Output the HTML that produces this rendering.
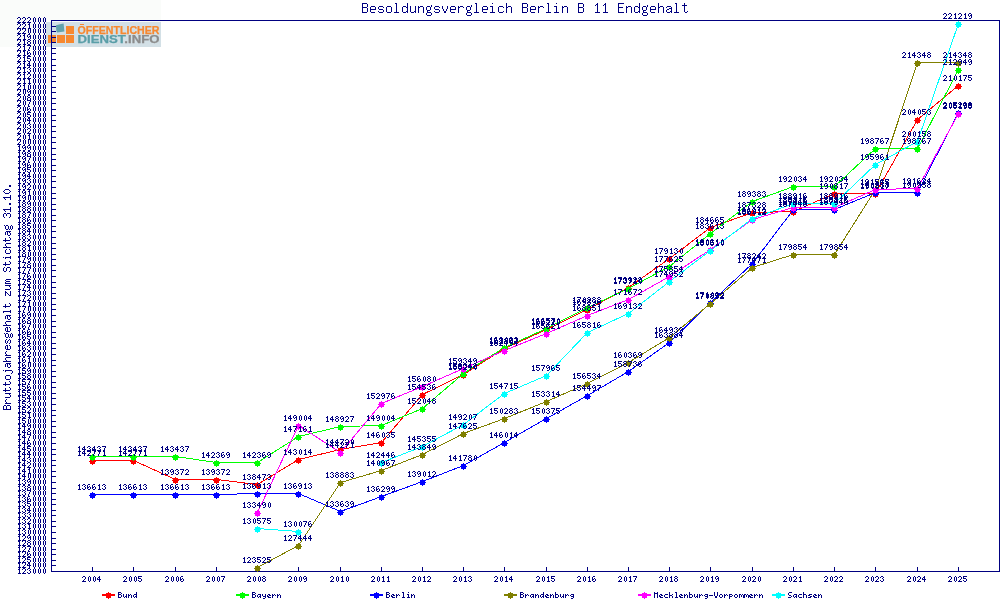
<!DOCTYPE html><html><head><meta charset="utf-8"><style>html,body{margin:0;padding:0;background:#fff;width:1000px;height:600px;overflow:hidden}svg{display:block;will-change:transform}</style></head><body>
<svg width="1000" height="600" viewBox="0 0 1000 600">
<defs>
<path id="d0" d="M2 0h1v1h-1zM1 1h1v1h-1zM3 1h1v1h-1zM1 2h1v1h-1zM3 2h1v1h-1zM1 3h1v1h-1zM3 3h1v1h-1zM1 4h1v1h-1zM3 4h1v1h-1zM2 5h1v1h-1z"/>
<path id="d1" d="M2 0h1v1h-1zM1 1h2v1h-2zM2 2h1v1h-1zM2 3h1v1h-1zM2 4h1v1h-1zM1 5h3v1h-3z"/>
<path id="d2" d="M1 0h2v1h-2zM0 1h1v1h-1zM3 1h1v1h-1zM3 2h1v1h-1zM2 3h1v1h-1zM1 4h1v1h-1zM0 5h4v1h-4z"/>
<path id="d3" d="M1 0h2v1h-2zM0 1h1v1h-1zM3 1h1v1h-1zM2 2h1v1h-1zM3 3h1v1h-1zM0 4h1v1h-1zM3 4h1v1h-1zM1 5h2v1h-2z"/>
<path id="d4" d="M2 0h1v1h-1zM1 1h2v1h-2zM0 2h1v1h-1zM2 2h1v1h-1zM0 3h4v1h-4zM2 4h1v1h-1zM2 5h1v1h-1z"/>
<path id="d5" d="M0 0h4v1h-4zM0 1h1v1h-1zM0 2h3v1h-3zM3 3h1v1h-1zM0 4h1v1h-1zM3 4h1v1h-1zM1 5h2v1h-2z"/>
<path id="d6" d="M1 0h2v1h-2zM0 1h1v1h-1zM0 2h1v1h-1zM2 2h1v1h-1zM0 3h2v1h-2zM3 3h1v1h-1zM0 4h1v1h-1zM3 4h1v1h-1zM1 5h2v1h-2z"/>
<path id="d7" d="M0 0h4v1h-4zM3 1h1v1h-1zM2 2h1v1h-1zM2 3h1v1h-1zM1 4h1v1h-1zM1 5h1v1h-1z"/>
<path id="d8" d="M1 0h2v1h-2zM0 1h1v1h-1zM3 1h1v1h-1zM1 2h2v1h-2zM0 3h1v1h-1zM3 3h1v1h-1zM0 4h1v1h-1zM3 4h1v1h-1zM1 5h2v1h-2z"/>
<path id="d9" d="M1 0h2v1h-2zM0 1h1v1h-1zM3 1h1v1h-1zM0 2h1v1h-1zM2 2h2v1h-2zM1 3h1v1h-1zM3 3h1v1h-1zM3 4h1v1h-1zM1 5h2v1h-2z"/>
<path id="L0" d="M0 0h3v1h-3zM0 1h1v1h-1zM3 1h1v1h-1zM0 2h3v1h-3zM0 3h1v1h-1zM3 3h1v1h-1zM0 4h1v1h-1zM3 4h1v1h-1zM0 5h3v1h-3z"/>
<path id="L1" d="M0 2h1v1h-1zM3 2h1v1h-1zM0 3h1v1h-1zM3 3h1v1h-1zM0 4h1v1h-1zM2 4h2v1h-2zM1 5h1v1h-1zM3 5h1v1h-1z"/>
<path id="L2" d="M0 2h1v1h-1zM2 2h1v1h-1zM0 3h2v1h-2zM3 3h1v1h-1zM0 4h1v1h-1zM3 4h1v1h-1zM0 5h1v1h-1zM3 5h1v1h-1z"/>
<path id="L3" d="M3 0h1v1h-1zM3 1h1v1h-1zM1 2h3v1h-3zM0 3h1v1h-1zM3 3h1v1h-1zM0 4h1v1h-1zM2 4h2v1h-2zM1 5h1v1h-1zM3 5h1v1h-1z"/>
<path id="L4" d="M1 2h3v1h-3zM0 3h1v1h-1zM3 3h1v1h-1zM0 4h1v1h-1zM2 4h2v1h-2zM1 5h1v1h-1zM3 5h1v1h-1z"/>
<path id="L5" d="M0 2h1v1h-1zM3 2h1v1h-1zM0 3h1v1h-1zM3 3h1v1h-1zM1 4h3v1h-3zM3 5h1v1h-1zM1 6h2v1h-2z"/>
<path id="L6" d="M1 2h2v1h-2zM0 3h1v1h-1zM2 3h2v1h-2zM0 4h2v1h-2zM1 5h3v1h-3z"/>
<path id="L7" d="M0 2h1v1h-1zM2 2h1v1h-1zM0 3h2v1h-2zM3 3h1v1h-1zM0 4h1v1h-1zM0 5h1v1h-1z"/>
<path id="L8" d="M1 0h2v1h-2zM2 1h1v1h-1zM2 2h1v1h-1zM2 3h1v1h-1zM2 4h1v1h-1zM1 5h3v1h-3z"/>
<path id="L9" d="M2 0h1v1h-1zM1 2h2v1h-2zM2 3h1v1h-1zM2 4h1v1h-1zM1 5h3v1h-3z"/>
<path id="L10" d="M0 0h1v1h-1zM0 1h1v1h-1zM0 2h3v1h-3zM0 3h1v1h-1zM3 3h1v1h-1zM0 4h1v1h-1zM3 4h1v1h-1zM0 5h3v1h-3z"/>
<path id="L11" d="M1 2h3v1h-3zM0 3h1v1h-1zM3 3h1v1h-1zM1 4h3v1h-3zM3 5h1v1h-1zM1 6h2v1h-2z"/>
<path id="L12" d="M0 0h1v1h-1zM3 0h1v1h-1zM0 1h4v1h-4zM0 2h1v1h-1zM3 2h1v1h-1zM0 3h1v1h-1zM3 3h1v1h-1zM0 4h1v1h-1zM3 4h1v1h-1zM0 5h1v1h-1zM3 5h1v1h-1z"/>
<path id="L13" d="M1 2h3v1h-3zM0 3h1v1h-1zM0 4h1v1h-1zM1 5h3v1h-3z"/>
<path id="L14" d="M0 0h1v1h-1zM0 1h1v1h-1zM0 2h1v1h-1zM3 2h1v1h-1zM0 3h3v1h-3zM0 4h1v1h-1zM3 4h1v1h-1zM0 5h1v1h-1zM3 5h1v1h-1z"/>
<path id="L15" d="M0 3h4v1h-4z"/>
<path id="L16" d="M0 0h1v1h-1zM3 0h1v1h-1zM0 1h1v1h-1zM3 1h1v1h-1zM0 2h1v1h-1zM3 2h1v1h-1zM0 3h1v1h-1zM3 3h1v1h-1zM1 4h2v1h-2zM1 5h2v1h-2z"/>
<path id="L17" d="M1 2h2v1h-2zM0 3h1v1h-1zM3 3h1v1h-1zM0 4h1v1h-1zM3 4h1v1h-1zM1 5h2v1h-2z"/>
<path id="L18" d="M0 2h3v1h-3zM0 3h1v1h-1zM3 3h1v1h-1zM0 4h3v1h-3zM0 5h1v1h-1zM0 6h1v1h-1z"/>
<path id="L19" d="M0 2h2v1h-2zM3 2h1v1h-1zM0 3h1v1h-1zM2 3h1v1h-1zM4 3h1v1h-1zM0 4h1v1h-1zM2 4h1v1h-1zM4 4h1v1h-1zM0 5h1v1h-1zM4 5h1v1h-1z"/>
<path id="L20" d="M1 0h3v1h-3zM0 1h1v1h-1zM0 2h1v1h-1zM1 3h2v1h-2zM3 4h1v1h-1zM0 5h3v1h-3z"/>
<path id="L21" d="M0 0h1v1h-1zM0 1h1v1h-1zM0 2h3v1h-3zM0 3h1v1h-1zM3 3h1v1h-1zM0 4h1v1h-1zM3 4h1v1h-1zM0 5h1v1h-1zM3 5h1v1h-1z"/>
<path id="L22" d="M1 2h3v1h-3zM0 3h2v1h-2zM2 4h2v1h-2zM0 5h3v1h-3z"/>
<path id="T0" d="M0 0h5v1h-5zM0 1h1v1h-1zM5 1h1v1h-1zM0 2h1v1h-1zM5 2h1v1h-1zM0 3h1v1h-1zM5 3h1v1h-1zM0 4h5v1h-5zM0 5h1v1h-1zM5 5h1v1h-1zM0 6h1v1h-1zM5 6h1v1h-1zM0 7h1v1h-1zM5 7h1v1h-1zM0 8h1v1h-1zM5 8h1v1h-1zM0 9h5v1h-5z"/>
<path id="T1" d="M1 3h4v1h-4zM0 4h1v1h-1zM5 4h1v1h-1zM0 5h1v1h-1zM5 5h1v1h-1zM0 6h6v1h-6zM0 7h1v1h-1zM0 8h1v1h-1zM1 9h4v1h-4z"/>
<path id="T2" d="M1 3h4v1h-4zM0 4h1v1h-1zM5 4h1v1h-1zM0 5h1v1h-1zM1 6h4v1h-4zM5 7h1v1h-1zM0 8h1v1h-1zM5 8h1v1h-1zM1 9h4v1h-4z"/>
<path id="T3" d="M1 3h4v1h-4zM0 4h1v1h-1zM5 4h1v1h-1zM0 5h1v1h-1zM5 5h1v1h-1zM0 6h1v1h-1zM5 6h1v1h-1zM0 7h1v1h-1zM5 7h1v1h-1zM0 8h1v1h-1zM5 8h1v1h-1zM1 9h4v1h-4z"/>
<path id="T4" d="M1 0h2v1h-2zM2 1h1v1h-1zM2 2h1v1h-1zM2 3h1v1h-1zM2 4h1v1h-1zM2 5h1v1h-1zM2 6h1v1h-1zM2 7h1v1h-1zM2 8h1v1h-1zM0 9h5v1h-5z"/>
<path id="T5" d="M5 0h1v1h-1zM5 1h1v1h-1zM5 2h1v1h-1zM1 3h3v1h-3zM5 3h1v1h-1zM0 4h1v1h-1zM4 4h2v1h-2zM0 5h1v1h-1zM5 5h1v1h-1zM0 6h1v1h-1zM5 6h1v1h-1zM0 7h1v1h-1zM5 7h1v1h-1zM0 8h1v1h-1zM4 8h2v1h-2zM1 9h3v1h-3zM5 9h1v1h-1z"/>
<path id="T6" d="M0 3h1v1h-1zM5 3h1v1h-1zM0 4h1v1h-1zM5 4h1v1h-1zM0 5h1v1h-1zM5 5h1v1h-1zM0 6h1v1h-1zM5 6h1v1h-1zM0 7h1v1h-1zM5 7h1v1h-1zM0 8h1v1h-1zM4 8h2v1h-2zM1 9h3v1h-3zM5 9h1v1h-1z"/>
<path id="T7" d="M0 3h1v1h-1zM2 3h3v1h-3zM0 4h2v1h-2zM5 4h1v1h-1zM0 5h1v1h-1zM5 5h1v1h-1zM0 6h1v1h-1zM5 6h1v1h-1zM0 7h1v1h-1zM5 7h1v1h-1zM0 8h1v1h-1zM5 8h1v1h-1zM0 9h1v1h-1zM5 9h1v1h-1z"/>
<path id="T8" d="M5 2h1v1h-1zM1 3h3v1h-3zM5 3h1v1h-1zM0 4h1v1h-1zM4 4h1v1h-1zM0 5h1v1h-1zM4 5h1v1h-1zM0 6h1v1h-1zM4 6h1v1h-1zM1 7h3v1h-3zM1 8h1v1h-1zM1 9h4v1h-4zM0 10h1v1h-1zM5 10h1v1h-1zM0 11h1v1h-1zM5 11h1v1h-1zM1 12h4v1h-4z"/>
<path id="T9" d="M0 3h1v1h-1zM5 3h1v1h-1zM0 4h1v1h-1zM5 4h1v1h-1zM0 5h1v1h-1zM5 5h1v1h-1zM1 6h1v1h-1zM4 6h1v1h-1zM1 7h1v1h-1zM4 7h1v1h-1zM2 8h2v1h-2zM2 9h2v1h-2z"/>
<path id="T10" d="M0 3h1v1h-1zM2 3h3v1h-3zM0 4h2v1h-2zM5 4h1v1h-1zM0 5h1v1h-1zM0 6h1v1h-1zM0 7h1v1h-1zM0 8h1v1h-1zM0 9h1v1h-1z"/>
<path id="T11" d="M2 0h1v1h-1zM0 3h3v1h-3zM2 4h1v1h-1zM2 5h1v1h-1zM2 6h1v1h-1zM2 7h1v1h-1zM2 8h1v1h-1zM0 9h5v1h-5z"/>
<path id="T12" d="M1 3h4v1h-4zM0 4h1v1h-1zM5 4h1v1h-1zM0 5h1v1h-1zM0 6h1v1h-1zM0 7h1v1h-1zM0 8h1v1h-1zM5 8h1v1h-1zM1 9h4v1h-4z"/>
<path id="T13" d="M0 0h1v1h-1zM0 1h1v1h-1zM0 2h1v1h-1zM0 3h1v1h-1zM2 3h3v1h-3zM0 4h2v1h-2zM5 4h1v1h-1zM0 5h1v1h-1zM5 5h1v1h-1zM0 6h1v1h-1zM5 6h1v1h-1zM0 7h1v1h-1zM5 7h1v1h-1zM0 8h1v1h-1zM5 8h1v1h-1zM0 9h1v1h-1zM5 9h1v1h-1z"/>
<path id="T14" d="M3 0h1v1h-1zM2 1h2v1h-2zM1 2h1v1h-1zM3 2h1v1h-1zM3 3h1v1h-1zM3 4h1v1h-1zM3 5h1v1h-1zM3 6h1v1h-1zM3 7h1v1h-1zM3 8h1v1h-1zM1 9h5v1h-5z"/>
<path id="T15" d="M0 0h6v1h-6zM0 1h1v1h-1zM0 2h1v1h-1zM0 3h1v1h-1zM0 4h5v1h-5zM0 5h1v1h-1zM0 6h1v1h-1zM0 7h1v1h-1zM0 8h1v1h-1zM0 9h6v1h-6z"/>
<path id="T16" d="M1 3h4v1h-4zM0 4h1v1h-1zM5 4h1v1h-1zM3 5h3v1h-3zM1 6h2v1h-2zM5 6h1v1h-1zM0 7h1v1h-1zM5 7h1v1h-1zM0 8h1v1h-1zM4 8h2v1h-2zM1 9h3v1h-3zM5 9h1v1h-1z"/>
<path id="T17" d="M2 0h1v1h-1zM2 1h1v1h-1zM0 2h5v1h-5zM2 3h1v1h-1zM2 4h1v1h-1zM2 5h1v1h-1zM2 6h1v1h-1zM2 7h1v1h-1zM2 8h1v1h-1zM5 8h1v1h-1zM3 9h2v1h-2z"/>
<path id="Y0" d="M0 0h4v1h-4zM0 1h1v1h-1zM4 1h1v1h-1zM0 2h1v1h-1zM4 2h1v1h-1zM0 3h4v1h-4zM0 4h1v1h-1zM4 4h1v1h-1zM0 5h1v1h-1zM4 5h1v1h-1zM0 6h1v1h-1zM4 6h1v1h-1zM0 7h4v1h-4z"/>
<path id="Y1" d="M0 2h1v1h-1zM2 2h2v1h-2zM0 3h2v1h-2zM4 3h1v1h-1zM0 4h1v1h-1zM0 5h1v1h-1zM0 6h1v1h-1zM0 7h1v1h-1z"/>
<path id="Y2" d="M0 2h1v1h-1zM4 2h1v1h-1zM0 3h1v1h-1zM4 3h1v1h-1zM0 4h1v1h-1zM4 4h1v1h-1zM0 5h1v1h-1zM4 5h1v1h-1zM0 6h1v1h-1zM3 6h2v1h-2zM1 7h2v1h-2zM4 7h1v1h-1z"/>
<path id="Y3" d="M1 0h1v1h-1zM1 1h1v1h-1zM0 2h4v1h-4zM1 3h1v1h-1zM1 4h1v1h-1zM1 5h1v1h-1zM1 6h1v1h-1zM4 6h1v1h-1zM2 7h2v1h-2z"/>
<path id="Y4" d="M1 2h3v1h-3zM0 3h1v1h-1zM4 3h1v1h-1zM0 4h1v1h-1zM4 4h1v1h-1zM0 5h1v1h-1zM4 5h1v1h-1zM0 6h1v1h-1zM4 6h1v1h-1zM1 7h3v1h-3z"/>
<path id="Y5" d="M3 0h1v1h-1zM2 2h2v1h-2zM3 3h1v1h-1zM3 4h1v1h-1zM3 5h1v1h-1zM3 6h1v1h-1zM3 7h1v1h-1zM0 8h1v1h-1zM3 8h1v1h-1zM1 9h2v1h-2z"/>
<path id="Y6" d="M1 2h3v1h-3zM4 3h1v1h-1zM1 4h4v1h-4zM0 5h1v1h-1zM4 5h1v1h-1zM0 6h1v1h-1zM3 6h2v1h-2zM1 7h2v1h-2zM4 7h1v1h-1z"/>
<path id="Y7" d="M0 0h1v1h-1zM0 1h1v1h-1zM0 2h1v1h-1zM2 2h2v1h-2zM0 3h2v1h-2zM4 3h1v1h-1zM0 4h1v1h-1zM4 4h1v1h-1zM0 5h1v1h-1zM4 5h1v1h-1zM0 6h1v1h-1zM4 6h1v1h-1zM0 7h1v1h-1zM4 7h1v1h-1z"/>
<path id="Y8" d="M1 2h3v1h-3zM0 3h1v1h-1zM4 3h1v1h-1zM0 4h5v1h-5zM0 5h1v1h-1zM0 6h1v1h-1zM4 6h1v1h-1zM1 7h3v1h-3z"/>
<path id="Y9" d="M1 2h3v1h-3zM0 3h1v1h-1zM4 3h1v1h-1zM1 4h2v1h-2zM3 5h1v1h-1zM0 6h1v1h-1zM4 6h1v1h-1zM1 7h3v1h-3z"/>
<path id="Y10" d="M4 1h1v1h-1zM1 2h3v1h-3zM0 3h1v1h-1zM4 3h1v1h-1zM0 4h1v1h-1zM4 4h1v1h-1zM1 5h3v1h-3zM0 6h1v1h-1zM1 7h3v1h-3zM0 8h1v1h-1zM4 8h1v1h-1zM1 9h3v1h-3z"/>
<path id="Y11" d="M1 0h2v1h-2zM2 1h1v1h-1zM2 2h1v1h-1zM2 3h1v1h-1zM2 4h1v1h-1zM2 5h1v1h-1zM2 6h1v1h-1zM1 7h3v1h-3z"/>
<path id="Y12" d="M0 2h5v1h-5zM3 3h1v1h-1zM2 4h1v1h-1zM1 5h1v1h-1zM0 6h1v1h-1zM0 7h5v1h-5z"/>
<path id="Y13" d="M0 2h2v1h-2zM3 2h1v1h-1zM0 3h1v1h-1zM2 3h1v1h-1zM4 3h1v1h-1zM0 4h1v1h-1zM2 4h1v1h-1zM4 4h1v1h-1zM0 5h1v1h-1zM2 5h1v1h-1zM4 5h1v1h-1zM0 6h1v1h-1zM2 6h1v1h-1zM4 6h1v1h-1zM0 7h1v1h-1zM4 7h1v1h-1z"/>
<path id="Y14" d="M1 0h3v1h-3zM0 1h1v1h-1zM4 1h1v1h-1zM0 2h1v1h-1zM1 3h3v1h-3zM4 4h1v1h-1zM4 5h1v1h-1zM0 6h1v1h-1zM4 6h1v1h-1zM1 7h3v1h-3z"/>
<path id="Y15" d="M2 0h1v1h-1zM1 2h2v1h-2zM2 3h1v1h-1zM2 4h1v1h-1zM2 5h1v1h-1zM2 6h1v1h-1zM1 7h3v1h-3z"/>
<path id="Y16" d="M1 2h3v1h-3zM0 3h1v1h-1zM4 3h1v1h-1zM0 4h1v1h-1zM0 5h1v1h-1zM0 6h1v1h-1zM4 6h1v1h-1zM1 7h3v1h-3z"/>
<path id="Y17" d="M1 0h3v1h-3zM0 1h1v1h-1zM4 1h1v1h-1zM4 2h1v1h-1zM2 3h2v1h-2zM4 4h1v1h-1zM4 5h1v1h-1zM0 6h1v1h-1zM4 6h1v1h-1zM1 7h3v1h-3z"/>
<path id="Y18" d="M2 0h1v1h-1zM1 1h2v1h-2zM0 2h1v1h-1zM2 2h1v1h-1zM2 3h1v1h-1zM2 4h1v1h-1zM2 5h1v1h-1zM2 6h1v1h-1zM0 7h5v1h-5z"/>
<path id="Y19" d="M1 6h2v1h-2zM1 7h2v1h-2z"/>
<path id="Y20" d="M2 0h1v1h-1zM1 1h1v1h-1zM3 1h1v1h-1zM0 2h1v1h-1zM4 2h1v1h-1zM0 3h1v1h-1zM4 3h1v1h-1zM0 4h1v1h-1zM4 4h1v1h-1zM0 5h1v1h-1zM4 5h1v1h-1zM1 6h1v1h-1zM3 6h1v1h-1zM2 7h1v1h-1z"/>
</defs>
<rect x="0" y="0" width="1000" height="600" fill="#ffffff"/>
<g shape-rendering="crispEdges">
<rect x="0" y="0" width="161" height="47" fill="#fafcfa"/>
<rect x="46" y="22" width="115" height="25" fill="#d3e0e6"/>
<rect x="66" y="26" width="8" height="8" fill="#f7882f"/>
<rect x="48" y="35" width="8" height="8" fill="#f7882f"/>
<rect x="57" y="35" width="8" height="8" fill="#f7882f"/>
<rect x="66" y="35" width="8" height="8" fill="#f7882f"/>
</g>
<path d="M56 25.2 L62 23.8 L63.6 23.6 L64.4 31.6 L57.2 32.6 L56.3 31 Z" fill="#62a3ac"/>
<text x="77.5" y="33.8" font-family="Liberation Sans" font-weight="bold" font-size="10.4" fill="#f7882f" stroke="#f7882f" stroke-width="0.25" textLength="82" lengthAdjust="spacingAndGlyphs">OFFENTLICHER</text>
<rect x="80" y="24" width="4" height="1" fill="#f7882f" shape-rendering="crispEdges"/>
<text x="77.5" y="43.2" font-family="Liberation Sans" font-weight="bold" font-size="10.4" stroke-width="0.25" textLength="82" lengthAdjust="spacingAndGlyphs"><tspan fill="#5a9ea8" stroke="#5a9ea8">DIENST</tspan><tspan fill="#8c8c8c" stroke="#8c8c8c">.INFO</tspan></text>
<g shape-rendering="crispEdges" stroke="#000080" stroke-width="1" fill="none">
<rect x="51.5" y="20.5" width="948" height="551"/>
<line x1="51" y1="571.5" x2="56" y2="571.5"/>
<line x1="51" y1="565.5" x2="56" y2="565.5"/>
<line x1="51" y1="560.5" x2="56" y2="560.5"/>
<line x1="51" y1="554.5" x2="56" y2="554.5"/>
<line x1="51" y1="549.5" x2="56" y2="549.5"/>
<line x1="51" y1="543.5" x2="56" y2="543.5"/>
<line x1="51" y1="538.5" x2="56" y2="538.5"/>
<line x1="51" y1="532.5" x2="56" y2="532.5"/>
<line x1="51" y1="526.5" x2="56" y2="526.5"/>
<line x1="51" y1="521.5" x2="56" y2="521.5"/>
<line x1="51" y1="515.5" x2="56" y2="515.5"/>
<line x1="51" y1="510.5" x2="56" y2="510.5"/>
<line x1="51" y1="504.5" x2="56" y2="504.5"/>
<line x1="51" y1="499.5" x2="56" y2="499.5"/>
<line x1="51" y1="493.5" x2="56" y2="493.5"/>
<line x1="51" y1="488.5" x2="56" y2="488.5"/>
<line x1="51" y1="482.5" x2="56" y2="482.5"/>
<line x1="51" y1="476.5" x2="56" y2="476.5"/>
<line x1="51" y1="471.5" x2="56" y2="471.5"/>
<line x1="51" y1="465.5" x2="56" y2="465.5"/>
<line x1="51" y1="460.5" x2="56" y2="460.5"/>
<line x1="51" y1="454.5" x2="56" y2="454.5"/>
<line x1="51" y1="449.5" x2="56" y2="449.5"/>
<line x1="51" y1="443.5" x2="56" y2="443.5"/>
<line x1="51" y1="437.5" x2="56" y2="437.5"/>
<line x1="51" y1="432.5" x2="56" y2="432.5"/>
<line x1="51" y1="426.5" x2="56" y2="426.5"/>
<line x1="51" y1="421.5" x2="56" y2="421.5"/>
<line x1="51" y1="415.5" x2="56" y2="415.5"/>
<line x1="51" y1="410.5" x2="56" y2="410.5"/>
<line x1="51" y1="404.5" x2="56" y2="404.5"/>
<line x1="51" y1="398.5" x2="56" y2="398.5"/>
<line x1="51" y1="393.5" x2="56" y2="393.5"/>
<line x1="51" y1="387.5" x2="56" y2="387.5"/>
<line x1="51" y1="382.5" x2="56" y2="382.5"/>
<line x1="51" y1="376.5" x2="56" y2="376.5"/>
<line x1="51" y1="371.5" x2="56" y2="371.5"/>
<line x1="51" y1="365.5" x2="56" y2="365.5"/>
<line x1="51" y1="360.5" x2="56" y2="360.5"/>
<line x1="51" y1="354.5" x2="56" y2="354.5"/>
<line x1="51" y1="348.5" x2="56" y2="348.5"/>
<line x1="51" y1="343.5" x2="56" y2="343.5"/>
<line x1="51" y1="337.5" x2="56" y2="337.5"/>
<line x1="51" y1="332.5" x2="56" y2="332.5"/>
<line x1="51" y1="326.5" x2="56" y2="326.5"/>
<line x1="51" y1="321.5" x2="56" y2="321.5"/>
<line x1="51" y1="315.5" x2="56" y2="315.5"/>
<line x1="51" y1="309.5" x2="56" y2="309.5"/>
<line x1="51" y1="304.5" x2="56" y2="304.5"/>
<line x1="51" y1="298.5" x2="56" y2="298.5"/>
<line x1="51" y1="293.5" x2="56" y2="293.5"/>
<line x1="51" y1="287.5" x2="56" y2="287.5"/>
<line x1="51" y1="282.5" x2="56" y2="282.5"/>
<line x1="51" y1="276.5" x2="56" y2="276.5"/>
<line x1="51" y1="270.5" x2="56" y2="270.5"/>
<line x1="51" y1="265.5" x2="56" y2="265.5"/>
<line x1="51" y1="259.5" x2="56" y2="259.5"/>
<line x1="51" y1="254.5" x2="56" y2="254.5"/>
<line x1="51" y1="248.5" x2="56" y2="248.5"/>
<line x1="51" y1="243.5" x2="56" y2="243.5"/>
<line x1="51" y1="237.5" x2="56" y2="237.5"/>
<line x1="51" y1="231.5" x2="56" y2="231.5"/>
<line x1="51" y1="226.5" x2="56" y2="226.5"/>
<line x1="51" y1="220.5" x2="56" y2="220.5"/>
<line x1="51" y1="215.5" x2="56" y2="215.5"/>
<line x1="51" y1="209.5" x2="56" y2="209.5"/>
<line x1="51" y1="204.5" x2="56" y2="204.5"/>
<line x1="51" y1="198.5" x2="56" y2="198.5"/>
<line x1="51" y1="193.5" x2="56" y2="193.5"/>
<line x1="51" y1="187.5" x2="56" y2="187.5"/>
<line x1="51" y1="181.5" x2="56" y2="181.5"/>
<line x1="51" y1="176.5" x2="56" y2="176.5"/>
<line x1="51" y1="170.5" x2="56" y2="170.5"/>
<line x1="51" y1="165.5" x2="56" y2="165.5"/>
<line x1="51" y1="159.5" x2="56" y2="159.5"/>
<line x1="51" y1="154.5" x2="56" y2="154.5"/>
<line x1="51" y1="148.5" x2="56" y2="148.5"/>
<line x1="51" y1="142.5" x2="56" y2="142.5"/>
<line x1="51" y1="137.5" x2="56" y2="137.5"/>
<line x1="51" y1="131.5" x2="56" y2="131.5"/>
<line x1="51" y1="126.5" x2="56" y2="126.5"/>
<line x1="51" y1="120.5" x2="56" y2="120.5"/>
<line x1="51" y1="115.5" x2="56" y2="115.5"/>
<line x1="51" y1="109.5" x2="56" y2="109.5"/>
<line x1="51" y1="103.5" x2="56" y2="103.5"/>
<line x1="51" y1="98.5" x2="56" y2="98.5"/>
<line x1="51" y1="92.5" x2="56" y2="92.5"/>
<line x1="51" y1="87.5" x2="56" y2="87.5"/>
<line x1="51" y1="81.5" x2="56" y2="81.5"/>
<line x1="51" y1="76.5" x2="56" y2="76.5"/>
<line x1="51" y1="70.5" x2="56" y2="70.5"/>
<line x1="51" y1="65.5" x2="56" y2="65.5"/>
<line x1="51" y1="59.5" x2="56" y2="59.5"/>
<line x1="51" y1="53.5" x2="56" y2="53.5"/>
<line x1="51" y1="48.5" x2="56" y2="48.5"/>
<line x1="51" y1="42.5" x2="56" y2="42.5"/>
<line x1="51" y1="37.5" x2="56" y2="37.5"/>
<line x1="51" y1="31.5" x2="56" y2="31.5"/>
<line x1="51" y1="26.5" x2="56" y2="26.5"/>
<line x1="51" y1="20.5" x2="56" y2="20.5"/>
<line x1="92.5" y1="567" x2="92.5" y2="571"/>
<line x1="133.5" y1="567" x2="133.5" y2="571"/>
<line x1="175.5" y1="567" x2="175.5" y2="571"/>
<line x1="216.5" y1="567" x2="216.5" y2="571"/>
<line x1="257.5" y1="567" x2="257.5" y2="571"/>
<line x1="298.5" y1="567" x2="298.5" y2="571"/>
<line x1="340.5" y1="567" x2="340.5" y2="571"/>
<line x1="381.5" y1="567" x2="381.5" y2="571"/>
<line x1="422.5" y1="567" x2="422.5" y2="571"/>
<line x1="463.5" y1="567" x2="463.5" y2="571"/>
<line x1="504.5" y1="567" x2="504.5" y2="571"/>
<line x1="546.5" y1="567" x2="546.5" y2="571"/>
<line x1="587.5" y1="567" x2="587.5" y2="571"/>
<line x1="628.5" y1="567" x2="628.5" y2="571"/>
<line x1="669.5" y1="567" x2="669.5" y2="571"/>
<line x1="710.5" y1="567" x2="710.5" y2="571"/>
<line x1="752.5" y1="567" x2="752.5" y2="571"/>
<line x1="793.5" y1="567" x2="793.5" y2="571"/>
<line x1="834.5" y1="567" x2="834.5" y2="571"/>
<line x1="875.5" y1="567" x2="875.5" y2="571"/>
<line x1="917.5" y1="567" x2="917.5" y2="571"/>
<line x1="958.5" y1="567" x2="958.5" y2="571"/>
</g>
<g fill="#000080" shape-rendering="crispEdges">
<use href="#d1" x="17" y="568"/><use href="#d2" x="22" y="568"/><use href="#d3" x="27" y="568"/><use href="#d0" x="32" y="568"/><use href="#d0" x="37" y="568"/><use href="#d0" x="42" y="568"/>
<use href="#d1" x="17" y="562"/><use href="#d2" x="22" y="562"/><use href="#d4" x="27" y="562"/><use href="#d0" x="32" y="562"/><use href="#d0" x="37" y="562"/><use href="#d0" x="42" y="562"/>
<use href="#d1" x="17" y="557"/><use href="#d2" x="22" y="557"/><use href="#d5" x="27" y="557"/><use href="#d0" x="32" y="557"/><use href="#d0" x="37" y="557"/><use href="#d0" x="42" y="557"/>
<use href="#d1" x="17" y="551"/><use href="#d2" x="22" y="551"/><use href="#d6" x="27" y="551"/><use href="#d0" x="32" y="551"/><use href="#d0" x="37" y="551"/><use href="#d0" x="42" y="551"/>
<use href="#d1" x="17" y="546"/><use href="#d2" x="22" y="546"/><use href="#d7" x="27" y="546"/><use href="#d0" x="32" y="546"/><use href="#d0" x="37" y="546"/><use href="#d0" x="42" y="546"/>
<use href="#d1" x="17" y="540"/><use href="#d2" x="22" y="540"/><use href="#d8" x="27" y="540"/><use href="#d0" x="32" y="540"/><use href="#d0" x="37" y="540"/><use href="#d0" x="42" y="540"/>
<use href="#d1" x="17" y="535"/><use href="#d2" x="22" y="535"/><use href="#d9" x="27" y="535"/><use href="#d0" x="32" y="535"/><use href="#d0" x="37" y="535"/><use href="#d0" x="42" y="535"/>
<use href="#d1" x="17" y="529"/><use href="#d3" x="22" y="529"/><use href="#d0" x="27" y="529"/><use href="#d0" x="32" y="529"/><use href="#d0" x="37" y="529"/><use href="#d0" x="42" y="529"/>
<use href="#d1" x="17" y="523"/><use href="#d3" x="22" y="523"/><use href="#d1" x="27" y="523"/><use href="#d0" x="32" y="523"/><use href="#d0" x="37" y="523"/><use href="#d0" x="42" y="523"/>
<use href="#d1" x="17" y="518"/><use href="#d3" x="22" y="518"/><use href="#d2" x="27" y="518"/><use href="#d0" x="32" y="518"/><use href="#d0" x="37" y="518"/><use href="#d0" x="42" y="518"/>
<use href="#d1" x="17" y="512"/><use href="#d3" x="22" y="512"/><use href="#d3" x="27" y="512"/><use href="#d0" x="32" y="512"/><use href="#d0" x="37" y="512"/><use href="#d0" x="42" y="512"/>
<use href="#d1" x="17" y="507"/><use href="#d3" x="22" y="507"/><use href="#d4" x="27" y="507"/><use href="#d0" x="32" y="507"/><use href="#d0" x="37" y="507"/><use href="#d0" x="42" y="507"/>
<use href="#d1" x="17" y="501"/><use href="#d3" x="22" y="501"/><use href="#d5" x="27" y="501"/><use href="#d0" x="32" y="501"/><use href="#d0" x="37" y="501"/><use href="#d0" x="42" y="501"/>
<use href="#d1" x="17" y="496"/><use href="#d3" x="22" y="496"/><use href="#d6" x="27" y="496"/><use href="#d0" x="32" y="496"/><use href="#d0" x="37" y="496"/><use href="#d0" x="42" y="496"/>
<use href="#d1" x="17" y="490"/><use href="#d3" x="22" y="490"/><use href="#d7" x="27" y="490"/><use href="#d0" x="32" y="490"/><use href="#d0" x="37" y="490"/><use href="#d0" x="42" y="490"/>
<use href="#d1" x="17" y="485"/><use href="#d3" x="22" y="485"/><use href="#d8" x="27" y="485"/><use href="#d0" x="32" y="485"/><use href="#d0" x="37" y="485"/><use href="#d0" x="42" y="485"/>
<use href="#d1" x="17" y="479"/><use href="#d3" x="22" y="479"/><use href="#d9" x="27" y="479"/><use href="#d0" x="32" y="479"/><use href="#d0" x="37" y="479"/><use href="#d0" x="42" y="479"/>
<use href="#d1" x="17" y="473"/><use href="#d4" x="22" y="473"/><use href="#d0" x="27" y="473"/><use href="#d0" x="32" y="473"/><use href="#d0" x="37" y="473"/><use href="#d0" x="42" y="473"/>
<use href="#d1" x="17" y="468"/><use href="#d4" x="22" y="468"/><use href="#d1" x="27" y="468"/><use href="#d0" x="32" y="468"/><use href="#d0" x="37" y="468"/><use href="#d0" x="42" y="468"/>
<use href="#d1" x="17" y="462"/><use href="#d4" x="22" y="462"/><use href="#d2" x="27" y="462"/><use href="#d0" x="32" y="462"/><use href="#d0" x="37" y="462"/><use href="#d0" x="42" y="462"/>
<use href="#d1" x="17" y="457"/><use href="#d4" x="22" y="457"/><use href="#d3" x="27" y="457"/><use href="#d0" x="32" y="457"/><use href="#d0" x="37" y="457"/><use href="#d0" x="42" y="457"/>
<use href="#d1" x="17" y="451"/><use href="#d4" x="22" y="451"/><use href="#d4" x="27" y="451"/><use href="#d0" x="32" y="451"/><use href="#d0" x="37" y="451"/><use href="#d0" x="42" y="451"/>
<use href="#d1" x="17" y="446"/><use href="#d4" x="22" y="446"/><use href="#d5" x="27" y="446"/><use href="#d0" x="32" y="446"/><use href="#d0" x="37" y="446"/><use href="#d0" x="42" y="446"/>
<use href="#d1" x="17" y="440"/><use href="#d4" x="22" y="440"/><use href="#d6" x="27" y="440"/><use href="#d0" x="32" y="440"/><use href="#d0" x="37" y="440"/><use href="#d0" x="42" y="440"/>
<use href="#d1" x="17" y="434"/><use href="#d4" x="22" y="434"/><use href="#d7" x="27" y="434"/><use href="#d0" x="32" y="434"/><use href="#d0" x="37" y="434"/><use href="#d0" x="42" y="434"/>
<use href="#d1" x="17" y="429"/><use href="#d4" x="22" y="429"/><use href="#d8" x="27" y="429"/><use href="#d0" x="32" y="429"/><use href="#d0" x="37" y="429"/><use href="#d0" x="42" y="429"/>
<use href="#d1" x="17" y="423"/><use href="#d4" x="22" y="423"/><use href="#d9" x="27" y="423"/><use href="#d0" x="32" y="423"/><use href="#d0" x="37" y="423"/><use href="#d0" x="42" y="423"/>
<use href="#d1" x="17" y="418"/><use href="#d5" x="22" y="418"/><use href="#d0" x="27" y="418"/><use href="#d0" x="32" y="418"/><use href="#d0" x="37" y="418"/><use href="#d0" x="42" y="418"/>
<use href="#d1" x="17" y="412"/><use href="#d5" x="22" y="412"/><use href="#d1" x="27" y="412"/><use href="#d0" x="32" y="412"/><use href="#d0" x="37" y="412"/><use href="#d0" x="42" y="412"/>
<use href="#d1" x="17" y="407"/><use href="#d5" x="22" y="407"/><use href="#d2" x="27" y="407"/><use href="#d0" x="32" y="407"/><use href="#d0" x="37" y="407"/><use href="#d0" x="42" y="407"/>
<use href="#d1" x="17" y="401"/><use href="#d5" x="22" y="401"/><use href="#d3" x="27" y="401"/><use href="#d0" x="32" y="401"/><use href="#d0" x="37" y="401"/><use href="#d0" x="42" y="401"/>
<use href="#d1" x="17" y="395"/><use href="#d5" x="22" y="395"/><use href="#d4" x="27" y="395"/><use href="#d0" x="32" y="395"/><use href="#d0" x="37" y="395"/><use href="#d0" x="42" y="395"/>
<use href="#d1" x="17" y="390"/><use href="#d5" x="22" y="390"/><use href="#d5" x="27" y="390"/><use href="#d0" x="32" y="390"/><use href="#d0" x="37" y="390"/><use href="#d0" x="42" y="390"/>
<use href="#d1" x="17" y="384"/><use href="#d5" x="22" y="384"/><use href="#d6" x="27" y="384"/><use href="#d0" x="32" y="384"/><use href="#d0" x="37" y="384"/><use href="#d0" x="42" y="384"/>
<use href="#d1" x="17" y="379"/><use href="#d5" x="22" y="379"/><use href="#d7" x="27" y="379"/><use href="#d0" x="32" y="379"/><use href="#d0" x="37" y="379"/><use href="#d0" x="42" y="379"/>
<use href="#d1" x="17" y="373"/><use href="#d5" x="22" y="373"/><use href="#d8" x="27" y="373"/><use href="#d0" x="32" y="373"/><use href="#d0" x="37" y="373"/><use href="#d0" x="42" y="373"/>
<use href="#d1" x="17" y="368"/><use href="#d5" x="22" y="368"/><use href="#d9" x="27" y="368"/><use href="#d0" x="32" y="368"/><use href="#d0" x="37" y="368"/><use href="#d0" x="42" y="368"/>
<use href="#d1" x="17" y="362"/><use href="#d6" x="22" y="362"/><use href="#d0" x="27" y="362"/><use href="#d0" x="32" y="362"/><use href="#d0" x="37" y="362"/><use href="#d0" x="42" y="362"/>
<use href="#d1" x="17" y="357"/><use href="#d6" x="22" y="357"/><use href="#d1" x="27" y="357"/><use href="#d0" x="32" y="357"/><use href="#d0" x="37" y="357"/><use href="#d0" x="42" y="357"/>
<use href="#d1" x="17" y="351"/><use href="#d6" x="22" y="351"/><use href="#d2" x="27" y="351"/><use href="#d0" x="32" y="351"/><use href="#d0" x="37" y="351"/><use href="#d0" x="42" y="351"/>
<use href="#d1" x="17" y="345"/><use href="#d6" x="22" y="345"/><use href="#d3" x="27" y="345"/><use href="#d0" x="32" y="345"/><use href="#d0" x="37" y="345"/><use href="#d0" x="42" y="345"/>
<use href="#d1" x="17" y="340"/><use href="#d6" x="22" y="340"/><use href="#d4" x="27" y="340"/><use href="#d0" x="32" y="340"/><use href="#d0" x="37" y="340"/><use href="#d0" x="42" y="340"/>
<use href="#d1" x="17" y="334"/><use href="#d6" x="22" y="334"/><use href="#d5" x="27" y="334"/><use href="#d0" x="32" y="334"/><use href="#d0" x="37" y="334"/><use href="#d0" x="42" y="334"/>
<use href="#d1" x="17" y="329"/><use href="#d6" x="22" y="329"/><use href="#d6" x="27" y="329"/><use href="#d0" x="32" y="329"/><use href="#d0" x="37" y="329"/><use href="#d0" x="42" y="329"/>
<use href="#d1" x="17" y="323"/><use href="#d6" x="22" y="323"/><use href="#d7" x="27" y="323"/><use href="#d0" x="32" y="323"/><use href="#d0" x="37" y="323"/><use href="#d0" x="42" y="323"/>
<use href="#d1" x="17" y="318"/><use href="#d6" x="22" y="318"/><use href="#d8" x="27" y="318"/><use href="#d0" x="32" y="318"/><use href="#d0" x="37" y="318"/><use href="#d0" x="42" y="318"/>
<use href="#d1" x="17" y="312"/><use href="#d6" x="22" y="312"/><use href="#d9" x="27" y="312"/><use href="#d0" x="32" y="312"/><use href="#d0" x="37" y="312"/><use href="#d0" x="42" y="312"/>
<use href="#d1" x="17" y="306"/><use href="#d7" x="22" y="306"/><use href="#d0" x="27" y="306"/><use href="#d0" x="32" y="306"/><use href="#d0" x="37" y="306"/><use href="#d0" x="42" y="306"/>
<use href="#d1" x="17" y="301"/><use href="#d7" x="22" y="301"/><use href="#d1" x="27" y="301"/><use href="#d0" x="32" y="301"/><use href="#d0" x="37" y="301"/><use href="#d0" x="42" y="301"/>
<use href="#d1" x="17" y="295"/><use href="#d7" x="22" y="295"/><use href="#d2" x="27" y="295"/><use href="#d0" x="32" y="295"/><use href="#d0" x="37" y="295"/><use href="#d0" x="42" y="295"/>
<use href="#d1" x="17" y="290"/><use href="#d7" x="22" y="290"/><use href="#d3" x="27" y="290"/><use href="#d0" x="32" y="290"/><use href="#d0" x="37" y="290"/><use href="#d0" x="42" y="290"/>
<use href="#d1" x="17" y="284"/><use href="#d7" x="22" y="284"/><use href="#d4" x="27" y="284"/><use href="#d0" x="32" y="284"/><use href="#d0" x="37" y="284"/><use href="#d0" x="42" y="284"/>
<use href="#d1" x="17" y="279"/><use href="#d7" x="22" y="279"/><use href="#d5" x="27" y="279"/><use href="#d0" x="32" y="279"/><use href="#d0" x="37" y="279"/><use href="#d0" x="42" y="279"/>
<use href="#d1" x="17" y="273"/><use href="#d7" x="22" y="273"/><use href="#d6" x="27" y="273"/><use href="#d0" x="32" y="273"/><use href="#d0" x="37" y="273"/><use href="#d0" x="42" y="273"/>
<use href="#d1" x="17" y="267"/><use href="#d7" x="22" y="267"/><use href="#d7" x="27" y="267"/><use href="#d0" x="32" y="267"/><use href="#d0" x="37" y="267"/><use href="#d0" x="42" y="267"/>
<use href="#d1" x="17" y="262"/><use href="#d7" x="22" y="262"/><use href="#d8" x="27" y="262"/><use href="#d0" x="32" y="262"/><use href="#d0" x="37" y="262"/><use href="#d0" x="42" y="262"/>
<use href="#d1" x="17" y="256"/><use href="#d7" x="22" y="256"/><use href="#d9" x="27" y="256"/><use href="#d0" x="32" y="256"/><use href="#d0" x="37" y="256"/><use href="#d0" x="42" y="256"/>
<use href="#d1" x="17" y="251"/><use href="#d8" x="22" y="251"/><use href="#d0" x="27" y="251"/><use href="#d0" x="32" y="251"/><use href="#d0" x="37" y="251"/><use href="#d0" x="42" y="251"/>
<use href="#d1" x="17" y="245"/><use href="#d8" x="22" y="245"/><use href="#d1" x="27" y="245"/><use href="#d0" x="32" y="245"/><use href="#d0" x="37" y="245"/><use href="#d0" x="42" y="245"/>
<use href="#d1" x="17" y="240"/><use href="#d8" x="22" y="240"/><use href="#d2" x="27" y="240"/><use href="#d0" x="32" y="240"/><use href="#d0" x="37" y="240"/><use href="#d0" x="42" y="240"/>
<use href="#d1" x="17" y="234"/><use href="#d8" x="22" y="234"/><use href="#d3" x="27" y="234"/><use href="#d0" x="32" y="234"/><use href="#d0" x="37" y="234"/><use href="#d0" x="42" y="234"/>
<use href="#d1" x="17" y="228"/><use href="#d8" x="22" y="228"/><use href="#d4" x="27" y="228"/><use href="#d0" x="32" y="228"/><use href="#d0" x="37" y="228"/><use href="#d0" x="42" y="228"/>
<use href="#d1" x="17" y="223"/><use href="#d8" x="22" y="223"/><use href="#d5" x="27" y="223"/><use href="#d0" x="32" y="223"/><use href="#d0" x="37" y="223"/><use href="#d0" x="42" y="223"/>
<use href="#d1" x="17" y="217"/><use href="#d8" x="22" y="217"/><use href="#d6" x="27" y="217"/><use href="#d0" x="32" y="217"/><use href="#d0" x="37" y="217"/><use href="#d0" x="42" y="217"/>
<use href="#d1" x="17" y="212"/><use href="#d8" x="22" y="212"/><use href="#d7" x="27" y="212"/><use href="#d0" x="32" y="212"/><use href="#d0" x="37" y="212"/><use href="#d0" x="42" y="212"/>
<use href="#d1" x="17" y="206"/><use href="#d8" x="22" y="206"/><use href="#d8" x="27" y="206"/><use href="#d0" x="32" y="206"/><use href="#d0" x="37" y="206"/><use href="#d0" x="42" y="206"/>
<use href="#d1" x="17" y="201"/><use href="#d8" x="22" y="201"/><use href="#d9" x="27" y="201"/><use href="#d0" x="32" y="201"/><use href="#d0" x="37" y="201"/><use href="#d0" x="42" y="201"/>
<use href="#d1" x="17" y="195"/><use href="#d9" x="22" y="195"/><use href="#d0" x="27" y="195"/><use href="#d0" x="32" y="195"/><use href="#d0" x="37" y="195"/><use href="#d0" x="42" y="195"/>
<use href="#d1" x="17" y="190"/><use href="#d9" x="22" y="190"/><use href="#d1" x="27" y="190"/><use href="#d0" x="32" y="190"/><use href="#d0" x="37" y="190"/><use href="#d0" x="42" y="190"/>
<use href="#d1" x="17" y="184"/><use href="#d9" x="22" y="184"/><use href="#d2" x="27" y="184"/><use href="#d0" x="32" y="184"/><use href="#d0" x="37" y="184"/><use href="#d0" x="42" y="184"/>
<use href="#d1" x="17" y="178"/><use href="#d9" x="22" y="178"/><use href="#d3" x="27" y="178"/><use href="#d0" x="32" y="178"/><use href="#d0" x="37" y="178"/><use href="#d0" x="42" y="178"/>
<use href="#d1" x="17" y="173"/><use href="#d9" x="22" y="173"/><use href="#d4" x="27" y="173"/><use href="#d0" x="32" y="173"/><use href="#d0" x="37" y="173"/><use href="#d0" x="42" y="173"/>
<use href="#d1" x="17" y="167"/><use href="#d9" x="22" y="167"/><use href="#d5" x="27" y="167"/><use href="#d0" x="32" y="167"/><use href="#d0" x="37" y="167"/><use href="#d0" x="42" y="167"/>
<use href="#d1" x="17" y="162"/><use href="#d9" x="22" y="162"/><use href="#d6" x="27" y="162"/><use href="#d0" x="32" y="162"/><use href="#d0" x="37" y="162"/><use href="#d0" x="42" y="162"/>
<use href="#d1" x="17" y="156"/><use href="#d9" x="22" y="156"/><use href="#d7" x="27" y="156"/><use href="#d0" x="32" y="156"/><use href="#d0" x="37" y="156"/><use href="#d0" x="42" y="156"/>
<use href="#d1" x="17" y="151"/><use href="#d9" x="22" y="151"/><use href="#d8" x="27" y="151"/><use href="#d0" x="32" y="151"/><use href="#d0" x="37" y="151"/><use href="#d0" x="42" y="151"/>
<use href="#d1" x="17" y="145"/><use href="#d9" x="22" y="145"/><use href="#d9" x="27" y="145"/><use href="#d0" x="32" y="145"/><use href="#d0" x="37" y="145"/><use href="#d0" x="42" y="145"/>
<use href="#d2" x="17" y="139"/><use href="#d0" x="22" y="139"/><use href="#d0" x="27" y="139"/><use href="#d0" x="32" y="139"/><use href="#d0" x="37" y="139"/><use href="#d0" x="42" y="139"/>
<use href="#d2" x="17" y="134"/><use href="#d0" x="22" y="134"/><use href="#d1" x="27" y="134"/><use href="#d0" x="32" y="134"/><use href="#d0" x="37" y="134"/><use href="#d0" x="42" y="134"/>
<use href="#d2" x="17" y="128"/><use href="#d0" x="22" y="128"/><use href="#d2" x="27" y="128"/><use href="#d0" x="32" y="128"/><use href="#d0" x="37" y="128"/><use href="#d0" x="42" y="128"/>
<use href="#d2" x="17" y="123"/><use href="#d0" x="22" y="123"/><use href="#d3" x="27" y="123"/><use href="#d0" x="32" y="123"/><use href="#d0" x="37" y="123"/><use href="#d0" x="42" y="123"/>
<use href="#d2" x="17" y="117"/><use href="#d0" x="22" y="117"/><use href="#d4" x="27" y="117"/><use href="#d0" x="32" y="117"/><use href="#d0" x="37" y="117"/><use href="#d0" x="42" y="117"/>
<use href="#d2" x="17" y="112"/><use href="#d0" x="22" y="112"/><use href="#d5" x="27" y="112"/><use href="#d0" x="32" y="112"/><use href="#d0" x="37" y="112"/><use href="#d0" x="42" y="112"/>
<use href="#d2" x="17" y="106"/><use href="#d0" x="22" y="106"/><use href="#d6" x="27" y="106"/><use href="#d0" x="32" y="106"/><use href="#d0" x="37" y="106"/><use href="#d0" x="42" y="106"/>
<use href="#d2" x="17" y="100"/><use href="#d0" x="22" y="100"/><use href="#d7" x="27" y="100"/><use href="#d0" x="32" y="100"/><use href="#d0" x="37" y="100"/><use href="#d0" x="42" y="100"/>
<use href="#d2" x="17" y="95"/><use href="#d0" x="22" y="95"/><use href="#d8" x="27" y="95"/><use href="#d0" x="32" y="95"/><use href="#d0" x="37" y="95"/><use href="#d0" x="42" y="95"/>
<use href="#d2" x="17" y="89"/><use href="#d0" x="22" y="89"/><use href="#d9" x="27" y="89"/><use href="#d0" x="32" y="89"/><use href="#d0" x="37" y="89"/><use href="#d0" x="42" y="89"/>
<use href="#d2" x="17" y="84"/><use href="#d1" x="22" y="84"/><use href="#d0" x="27" y="84"/><use href="#d0" x="32" y="84"/><use href="#d0" x="37" y="84"/><use href="#d0" x="42" y="84"/>
<use href="#d2" x="17" y="78"/><use href="#d1" x="22" y="78"/><use href="#d1" x="27" y="78"/><use href="#d0" x="32" y="78"/><use href="#d0" x="37" y="78"/><use href="#d0" x="42" y="78"/>
<use href="#d2" x="17" y="73"/><use href="#d1" x="22" y="73"/><use href="#d2" x="27" y="73"/><use href="#d0" x="32" y="73"/><use href="#d0" x="37" y="73"/><use href="#d0" x="42" y="73"/>
<use href="#d2" x="17" y="67"/><use href="#d1" x="22" y="67"/><use href="#d3" x="27" y="67"/><use href="#d0" x="32" y="67"/><use href="#d0" x="37" y="67"/><use href="#d0" x="42" y="67"/>
<use href="#d2" x="17" y="62"/><use href="#d1" x="22" y="62"/><use href="#d4" x="27" y="62"/><use href="#d0" x="32" y="62"/><use href="#d0" x="37" y="62"/><use href="#d0" x="42" y="62"/>
<use href="#d2" x="17" y="56"/><use href="#d1" x="22" y="56"/><use href="#d5" x="27" y="56"/><use href="#d0" x="32" y="56"/><use href="#d0" x="37" y="56"/><use href="#d0" x="42" y="56"/>
<use href="#d2" x="17" y="50"/><use href="#d1" x="22" y="50"/><use href="#d6" x="27" y="50"/><use href="#d0" x="32" y="50"/><use href="#d0" x="37" y="50"/><use href="#d0" x="42" y="50"/>
<use href="#d2" x="17" y="45"/><use href="#d1" x="22" y="45"/><use href="#d7" x="27" y="45"/><use href="#d0" x="32" y="45"/><use href="#d0" x="37" y="45"/><use href="#d0" x="42" y="45"/>
<use href="#d2" x="17" y="39"/><use href="#d1" x="22" y="39"/><use href="#d8" x="27" y="39"/><use href="#d0" x="32" y="39"/><use href="#d0" x="37" y="39"/><use href="#d0" x="42" y="39"/>
<use href="#d2" x="17" y="34"/><use href="#d1" x="22" y="34"/><use href="#d9" x="27" y="34"/><use href="#d0" x="32" y="34"/><use href="#d0" x="37" y="34"/><use href="#d0" x="42" y="34"/>
<use href="#d2" x="17" y="28"/><use href="#d2" x="22" y="28"/><use href="#d0" x="27" y="28"/><use href="#d0" x="32" y="28"/><use href="#d0" x="37" y="28"/><use href="#d0" x="42" y="28"/>
<use href="#d2" x="17" y="23"/><use href="#d2" x="22" y="23"/><use href="#d1" x="27" y="23"/><use href="#d0" x="32" y="23"/><use href="#d0" x="37" y="23"/><use href="#d0" x="42" y="23"/>
<use href="#d2" x="17" y="17"/><use href="#d2" x="22" y="17"/><use href="#d2" x="27" y="17"/><use href="#d0" x="32" y="17"/><use href="#d0" x="37" y="17"/><use href="#d0" x="42" y="17"/>
<use href="#d2" x="82" y="576"/><use href="#d0" x="87" y="576"/><use href="#d0" x="92" y="576"/><use href="#d4" x="97" y="576"/>
<use href="#d2" x="123" y="576"/><use href="#d0" x="128" y="576"/><use href="#d0" x="133" y="576"/><use href="#d5" x="138" y="576"/>
<use href="#d2" x="165" y="576"/><use href="#d0" x="170" y="576"/><use href="#d0" x="175" y="576"/><use href="#d6" x="180" y="576"/>
<use href="#d2" x="206" y="576"/><use href="#d0" x="211" y="576"/><use href="#d0" x="216" y="576"/><use href="#d7" x="221" y="576"/>
<use href="#d2" x="247" y="576"/><use href="#d0" x="252" y="576"/><use href="#d0" x="257" y="576"/><use href="#d8" x="262" y="576"/>
<use href="#d2" x="288" y="576"/><use href="#d0" x="293" y="576"/><use href="#d0" x="298" y="576"/><use href="#d9" x="303" y="576"/>
<use href="#d2" x="330" y="576"/><use href="#d0" x="335" y="576"/><use href="#d1" x="340" y="576"/><use href="#d0" x="345" y="576"/>
<use href="#d2" x="371" y="576"/><use href="#d0" x="376" y="576"/><use href="#d1" x="381" y="576"/><use href="#d1" x="386" y="576"/>
<use href="#d2" x="412" y="576"/><use href="#d0" x="417" y="576"/><use href="#d1" x="422" y="576"/><use href="#d2" x="427" y="576"/>
<use href="#d2" x="453" y="576"/><use href="#d0" x="458" y="576"/><use href="#d1" x="463" y="576"/><use href="#d3" x="468" y="576"/>
<use href="#d2" x="494" y="576"/><use href="#d0" x="499" y="576"/><use href="#d1" x="504" y="576"/><use href="#d4" x="509" y="576"/>
<use href="#d2" x="536" y="576"/><use href="#d0" x="541" y="576"/><use href="#d1" x="546" y="576"/><use href="#d5" x="551" y="576"/>
<use href="#d2" x="577" y="576"/><use href="#d0" x="582" y="576"/><use href="#d1" x="587" y="576"/><use href="#d6" x="592" y="576"/>
<use href="#d2" x="618" y="576"/><use href="#d0" x="623" y="576"/><use href="#d1" x="628" y="576"/><use href="#d7" x="633" y="576"/>
<use href="#d2" x="659" y="576"/><use href="#d0" x="664" y="576"/><use href="#d1" x="669" y="576"/><use href="#d8" x="674" y="576"/>
<use href="#d2" x="700" y="576"/><use href="#d0" x="705" y="576"/><use href="#d1" x="710" y="576"/><use href="#d9" x="715" y="576"/>
<use href="#d2" x="742" y="576"/><use href="#d0" x="747" y="576"/><use href="#d2" x="752" y="576"/><use href="#d0" x="757" y="576"/>
<use href="#d2" x="783" y="576"/><use href="#d0" x="788" y="576"/><use href="#d2" x="793" y="576"/><use href="#d1" x="798" y="576"/>
<use href="#d2" x="824" y="576"/><use href="#d0" x="829" y="576"/><use href="#d2" x="834" y="576"/><use href="#d2" x="839" y="576"/>
<use href="#d2" x="865" y="576"/><use href="#d0" x="870" y="576"/><use href="#d2" x="875" y="576"/><use href="#d3" x="880" y="576"/>
<use href="#d2" x="907" y="576"/><use href="#d0" x="912" y="576"/><use href="#d2" x="917" y="576"/><use href="#d4" x="922" y="576"/>
<use href="#d2" x="948" y="576"/><use href="#d0" x="953" y="576"/><use href="#d2" x="958" y="576"/><use href="#d5" x="963" y="576"/>
</g>
<g fill="#000080" shape-rendering="crispEdges"><use href="#T0" x="362" y="3"/><use href="#T1" x="370" y="3"/><use href="#T2" x="378" y="3"/><use href="#T3" x="386" y="3"/><use href="#T4" x="394" y="3"/><use href="#T5" x="402" y="3"/><use href="#T6" x="410" y="3"/><use href="#T7" x="418" y="3"/><use href="#T8" x="426" y="3"/><use href="#T2" x="434" y="3"/><use href="#T9" x="442" y="3"/><use href="#T1" x="450" y="3"/><use href="#T10" x="458" y="3"/><use href="#T8" x="466" y="3"/><use href="#T4" x="474" y="3"/><use href="#T1" x="482" y="3"/><use href="#T11" x="490" y="3"/><use href="#T12" x="498" y="3"/><use href="#T13" x="506" y="3"/><use href="#T0" x="522" y="3"/><use href="#T1" x="530" y="3"/><use href="#T10" x="538" y="3"/><use href="#T4" x="546" y="3"/><use href="#T11" x="554" y="3"/><use href="#T7" x="562" y="3"/><use href="#T0" x="578" y="3"/><use href="#T14" x="594" y="3"/><use href="#T14" x="602" y="3"/><use href="#T15" x="618" y="3"/><use href="#T7" x="626" y="3"/><use href="#T5" x="634" y="3"/><use href="#T8" x="642" y="3"/><use href="#T1" x="650" y="3"/><use href="#T13" x="658" y="3"/><use href="#T16" x="666" y="3"/><use href="#T4" x="674" y="3"/><use href="#T17" x="682" y="3"/></g>
<g fill="#000080" shape-rendering="crispEdges" transform="matrix(0,-1,1,0,3,410)"><use href="#Y0" x="0" y="0"/><use href="#Y1" x="6" y="0"/><use href="#Y2" x="12" y="0"/><use href="#Y3" x="18" y="0"/><use href="#Y3" x="24" y="0"/><use href="#Y4" x="30" y="0"/><use href="#Y5" x="36" y="0"/><use href="#Y6" x="42" y="0"/><use href="#Y7" x="48" y="0"/><use href="#Y1" x="54" y="0"/><use href="#Y8" x="60" y="0"/><use href="#Y9" x="66" y="0"/><use href="#Y10" x="72" y="0"/><use href="#Y8" x="78" y="0"/><use href="#Y7" x="84" y="0"/><use href="#Y6" x="90" y="0"/><use href="#Y11" x="96" y="0"/><use href="#Y3" x="102" y="0"/><use href="#Y12" x="114" y="0"/><use href="#Y2" x="120" y="0"/><use href="#Y13" x="126" y="0"/><use href="#Y14" x="138" y="0"/><use href="#Y3" x="144" y="0"/><use href="#Y15" x="150" y="0"/><use href="#Y16" x="156" y="0"/><use href="#Y7" x="162" y="0"/><use href="#Y3" x="168" y="0"/><use href="#Y6" x="174" y="0"/><use href="#Y10" x="180" y="0"/><use href="#Y17" x="192" y="0"/><use href="#Y18" x="198" y="0"/><use href="#Y19" x="204" y="0"/><use href="#Y18" x="210" y="0"/><use href="#Y20" x="216" y="0"/><use href="#Y19" x="222" y="0"/></g>
<g fill="none" stroke-width="1" shape-rendering="crispEdges">
<polyline stroke="#ff0000" points="92.5,460.5 133.5,460.5 175.5,479.5 216.5,479.5 257.5,484.5 298.5,459.5 340.5,449.5 381.5,442.5 422.5,394.5 463.5,374.5 504.5,348.5 546.5,329.5 587.5,309.5 628.5,287.5 669.5,258.5 710.5,227.5 752.5,212.5 793.5,211.5 834.5,193.5 875.5,193.5 917.5,119.5 958.5,85.5"/>
<polyline stroke="#00ff00" points="92.5,456.5 133.5,456.5 175.5,456.5 216.5,462.5 257.5,462.5 298.5,436.5 340.5,426.5 381.5,425.5 422.5,408.5 463.5,373.5 504.5,347.5 546.5,328.5 587.5,307.5 628.5,288.5 669.5,266.5 710.5,233.5 752.5,201.5 793.5,186.5 834.5,186.5 875.5,148.5 917.5,148.5 958.5,69.5"/>
<polyline stroke="#0000ff" points="92.5,494.5 133.5,494.5 175.5,494.5 216.5,494.5 257.5,493.5 298.5,493.5 340.5,511.5 381.5,496.5 422.5,481.5 463.5,465.5 504.5,442.5 546.5,418.5 587.5,395.5 628.5,371.5 669.5,342.5 710.5,302.5 752.5,263.5 793.5,209.5 834.5,209.5 875.5,192.5 917.5,192.5 958.5,112.5"/>
<polyline stroke="#808000" points="257.5,567.5 298.5,545.5 340.5,482.5 381.5,470.5 422.5,454.5 463.5,433.5 504.5,418.5 546.5,401.5 587.5,383.5 628.5,362.5 669.5,337.5 710.5,303.5 752.5,267.5 793.5,254.5 834.5,254.5 875.5,189.5 917.5,62.5 958.5,62.5"/>
<polyline stroke="#ff00ff" points="257.5,512.5 298.5,425.5 340.5,452.5 381.5,403.5 422.5,386.5 463.5,368.5 504.5,350.5 546.5,333.5 587.5,315.5 628.5,299.5 669.5,276.5 710.5,249.5 752.5,219.5 793.5,207.5 834.5,207.5 875.5,189.5 917.5,188.5 958.5,113.5"/>
<polyline stroke="#00ffff" points="257.5,528.5 298.5,531.5"/>
<polyline stroke="#00ffff" points="381.5,462.5 422.5,446.5 463.5,424.5 504.5,393.5 546.5,375.5 587.5,332.5 628.5,313.5 669.5,281.5 710.5,250.5 752.5,218.5 793.5,203.5 834.5,203.5 875.5,164.5 917.5,141.5 958.5,23.5"/>
</g>
<g shape-rendering="crispEdges">
<path d="M90 459h5v5h-5zM89 461h7v1h-7zM92 458h1v7h-1z" fill="#ff0000"/>
<path d="M131 459h5v5h-5zM130 461h7v1h-7zM133 458h1v7h-1z" fill="#ff0000"/>
<path d="M173 478h5v5h-5zM172 480h7v1h-7zM175 477h1v7h-1z" fill="#ff0000"/>
<path d="M214 478h5v5h-5zM213 480h7v1h-7zM216 477h1v7h-1z" fill="#ff0000"/>
<path d="M255 483h5v5h-5zM254 485h7v1h-7zM257 482h1v7h-1z" fill="#ff0000"/>
<path d="M296 458h5v5h-5zM295 460h7v1h-7zM298 457h1v7h-1z" fill="#ff0000"/>
<path d="M338 448h5v5h-5zM337 450h7v1h-7zM340 447h1v7h-1z" fill="#ff0000"/>
<path d="M379 441h5v5h-5zM378 443h7v1h-7zM381 440h1v7h-1z" fill="#ff0000"/>
<path d="M420 393h5v5h-5zM419 395h7v1h-7zM422 392h1v7h-1z" fill="#ff0000"/>
<path d="M461 373h5v5h-5zM460 375h7v1h-7zM463 372h1v7h-1z" fill="#ff0000"/>
<path d="M502 347h5v5h-5zM501 349h7v1h-7zM504 346h1v7h-1z" fill="#ff0000"/>
<path d="M544 328h5v5h-5zM543 330h7v1h-7zM546 327h1v7h-1z" fill="#ff0000"/>
<path d="M585 308h5v5h-5zM584 310h7v1h-7zM587 307h1v7h-1z" fill="#ff0000"/>
<path d="M626 286h5v5h-5zM625 288h7v1h-7zM628 285h1v7h-1z" fill="#ff0000"/>
<path d="M667 257h5v5h-5zM666 259h7v1h-7zM669 256h1v7h-1z" fill="#ff0000"/>
<path d="M708 226h5v5h-5zM707 228h7v1h-7zM710 225h1v7h-1z" fill="#ff0000"/>
<path d="M750 211h5v5h-5zM749 213h7v1h-7zM752 210h1v7h-1z" fill="#ff0000"/>
<path d="M791 210h5v5h-5zM790 212h7v1h-7zM793 209h1v7h-1z" fill="#ff0000"/>
<path d="M832 192h5v5h-5zM831 194h7v1h-7zM834 191h1v7h-1z" fill="#ff0000"/>
<path d="M873 192h5v5h-5zM872 194h7v1h-7zM875 191h1v7h-1z" fill="#ff0000"/>
<path d="M915 118h5v5h-5zM914 120h7v1h-7zM917 117h1v7h-1z" fill="#ff0000"/>
<path d="M956 84h5v5h-5zM955 86h7v1h-7zM958 83h1v7h-1z" fill="#ff0000"/>
<path d="M90 455h5v5h-5zM89 457h7v1h-7zM92 454h1v7h-1z" fill="#00ff00"/>
<path d="M131 455h5v5h-5zM130 457h7v1h-7zM133 454h1v7h-1z" fill="#00ff00"/>
<path d="M173 455h5v5h-5zM172 457h7v1h-7zM175 454h1v7h-1z" fill="#00ff00"/>
<path d="M214 461h5v5h-5zM213 463h7v1h-7zM216 460h1v7h-1z" fill="#00ff00"/>
<path d="M255 461h5v5h-5zM254 463h7v1h-7zM257 460h1v7h-1z" fill="#00ff00"/>
<path d="M296 435h5v5h-5zM295 437h7v1h-7zM298 434h1v7h-1z" fill="#00ff00"/>
<path d="M338 425h5v5h-5zM337 427h7v1h-7zM340 424h1v7h-1z" fill="#00ff00"/>
<path d="M379 424h5v5h-5zM378 426h7v1h-7zM381 423h1v7h-1z" fill="#00ff00"/>
<path d="M420 407h5v5h-5zM419 409h7v1h-7zM422 406h1v7h-1z" fill="#00ff00"/>
<path d="M461 372h5v5h-5zM460 374h7v1h-7zM463 371h1v7h-1z" fill="#00ff00"/>
<path d="M502 346h5v5h-5zM501 348h7v1h-7zM504 345h1v7h-1z" fill="#00ff00"/>
<path d="M544 327h5v5h-5zM543 329h7v1h-7zM546 326h1v7h-1z" fill="#00ff00"/>
<path d="M585 306h5v5h-5zM584 308h7v1h-7zM587 305h1v7h-1z" fill="#00ff00"/>
<path d="M626 287h5v5h-5zM625 289h7v1h-7zM628 286h1v7h-1z" fill="#00ff00"/>
<path d="M667 265h5v5h-5zM666 267h7v1h-7zM669 264h1v7h-1z" fill="#00ff00"/>
<path d="M708 232h5v5h-5zM707 234h7v1h-7zM710 231h1v7h-1z" fill="#00ff00"/>
<path d="M750 200h5v5h-5zM749 202h7v1h-7zM752 199h1v7h-1z" fill="#00ff00"/>
<path d="M791 185h5v5h-5zM790 187h7v1h-7zM793 184h1v7h-1z" fill="#00ff00"/>
<path d="M832 185h5v5h-5zM831 187h7v1h-7zM834 184h1v7h-1z" fill="#00ff00"/>
<path d="M873 147h5v5h-5zM872 149h7v1h-7zM875 146h1v7h-1z" fill="#00ff00"/>
<path d="M915 147h5v5h-5zM914 149h7v1h-7zM917 146h1v7h-1z" fill="#00ff00"/>
<path d="M956 68h5v5h-5zM955 70h7v1h-7zM958 67h1v7h-1z" fill="#00ff00"/>
<path d="M90 493h5v5h-5zM89 495h7v1h-7zM92 492h1v7h-1z" fill="#0000ff"/>
<path d="M131 493h5v5h-5zM130 495h7v1h-7zM133 492h1v7h-1z" fill="#0000ff"/>
<path d="M173 493h5v5h-5zM172 495h7v1h-7zM175 492h1v7h-1z" fill="#0000ff"/>
<path d="M214 493h5v5h-5zM213 495h7v1h-7zM216 492h1v7h-1z" fill="#0000ff"/>
<path d="M255 492h5v5h-5zM254 494h7v1h-7zM257 491h1v7h-1z" fill="#0000ff"/>
<path d="M296 492h5v5h-5zM295 494h7v1h-7zM298 491h1v7h-1z" fill="#0000ff"/>
<path d="M338 510h5v5h-5zM337 512h7v1h-7zM340 509h1v7h-1z" fill="#0000ff"/>
<path d="M379 495h5v5h-5zM378 497h7v1h-7zM381 494h1v7h-1z" fill="#0000ff"/>
<path d="M420 480h5v5h-5zM419 482h7v1h-7zM422 479h1v7h-1z" fill="#0000ff"/>
<path d="M461 464h5v5h-5zM460 466h7v1h-7zM463 463h1v7h-1z" fill="#0000ff"/>
<path d="M502 441h5v5h-5zM501 443h7v1h-7zM504 440h1v7h-1z" fill="#0000ff"/>
<path d="M544 417h5v5h-5zM543 419h7v1h-7zM546 416h1v7h-1z" fill="#0000ff"/>
<path d="M585 394h5v5h-5zM584 396h7v1h-7zM587 393h1v7h-1z" fill="#0000ff"/>
<path d="M626 370h5v5h-5zM625 372h7v1h-7zM628 369h1v7h-1z" fill="#0000ff"/>
<path d="M667 341h5v5h-5zM666 343h7v1h-7zM669 340h1v7h-1z" fill="#0000ff"/>
<path d="M708 301h5v5h-5zM707 303h7v1h-7zM710 300h1v7h-1z" fill="#0000ff"/>
<path d="M750 262h5v5h-5zM749 264h7v1h-7zM752 261h1v7h-1z" fill="#0000ff"/>
<path d="M791 208h5v5h-5zM790 210h7v1h-7zM793 207h1v7h-1z" fill="#0000ff"/>
<path d="M832 208h5v5h-5zM831 210h7v1h-7zM834 207h1v7h-1z" fill="#0000ff"/>
<path d="M873 191h5v5h-5zM872 193h7v1h-7zM875 190h1v7h-1z" fill="#0000ff"/>
<path d="M915 191h5v5h-5zM914 193h7v1h-7zM917 190h1v7h-1z" fill="#0000ff"/>
<path d="M956 111h5v5h-5zM955 113h7v1h-7zM958 110h1v7h-1z" fill="#0000ff"/>
<path d="M255 566h5v5h-5zM254 568h7v1h-7zM257 565h1v7h-1z" fill="#808000"/>
<path d="M296 544h5v5h-5zM295 546h7v1h-7zM298 543h1v7h-1z" fill="#808000"/>
<path d="M338 481h5v5h-5zM337 483h7v1h-7zM340 480h1v7h-1z" fill="#808000"/>
<path d="M379 469h5v5h-5zM378 471h7v1h-7zM381 468h1v7h-1z" fill="#808000"/>
<path d="M420 453h5v5h-5zM419 455h7v1h-7zM422 452h1v7h-1z" fill="#808000"/>
<path d="M461 432h5v5h-5zM460 434h7v1h-7zM463 431h1v7h-1z" fill="#808000"/>
<path d="M502 417h5v5h-5zM501 419h7v1h-7zM504 416h1v7h-1z" fill="#808000"/>
<path d="M544 400h5v5h-5zM543 402h7v1h-7zM546 399h1v7h-1z" fill="#808000"/>
<path d="M585 382h5v5h-5zM584 384h7v1h-7zM587 381h1v7h-1z" fill="#808000"/>
<path d="M626 361h5v5h-5zM625 363h7v1h-7zM628 360h1v7h-1z" fill="#808000"/>
<path d="M667 336h5v5h-5zM666 338h7v1h-7zM669 335h1v7h-1z" fill="#808000"/>
<path d="M708 302h5v5h-5zM707 304h7v1h-7zM710 301h1v7h-1z" fill="#808000"/>
<path d="M750 266h5v5h-5zM749 268h7v1h-7zM752 265h1v7h-1z" fill="#808000"/>
<path d="M791 253h5v5h-5zM790 255h7v1h-7zM793 252h1v7h-1z" fill="#808000"/>
<path d="M832 253h5v5h-5zM831 255h7v1h-7zM834 252h1v7h-1z" fill="#808000"/>
<path d="M873 188h5v5h-5zM872 190h7v1h-7zM875 187h1v7h-1z" fill="#808000"/>
<path d="M915 61h5v5h-5zM914 63h7v1h-7zM917 60h1v7h-1z" fill="#808000"/>
<path d="M956 61h5v5h-5zM955 63h7v1h-7zM958 60h1v7h-1z" fill="#808000"/>
<path d="M255 511h5v5h-5zM254 513h7v1h-7zM257 510h1v7h-1z" fill="#ff00ff"/>
<path d="M296 424h5v5h-5zM295 426h7v1h-7zM298 423h1v7h-1z" fill="#ff00ff"/>
<path d="M338 451h5v5h-5zM337 453h7v1h-7zM340 450h1v7h-1z" fill="#ff00ff"/>
<path d="M379 402h5v5h-5zM378 404h7v1h-7zM381 401h1v7h-1z" fill="#ff00ff"/>
<path d="M420 385h5v5h-5zM419 387h7v1h-7zM422 384h1v7h-1z" fill="#ff00ff"/>
<path d="M461 367h5v5h-5zM460 369h7v1h-7zM463 366h1v7h-1z" fill="#ff00ff"/>
<path d="M502 349h5v5h-5zM501 351h7v1h-7zM504 348h1v7h-1z" fill="#ff00ff"/>
<path d="M544 332h5v5h-5zM543 334h7v1h-7zM546 331h1v7h-1z" fill="#ff00ff"/>
<path d="M585 314h5v5h-5zM584 316h7v1h-7zM587 313h1v7h-1z" fill="#ff00ff"/>
<path d="M626 298h5v5h-5zM625 300h7v1h-7zM628 297h1v7h-1z" fill="#ff00ff"/>
<path d="M667 275h5v5h-5zM666 277h7v1h-7zM669 274h1v7h-1z" fill="#ff00ff"/>
<path d="M708 248h5v5h-5zM707 250h7v1h-7zM710 247h1v7h-1z" fill="#ff00ff"/>
<path d="M750 218h5v5h-5zM749 220h7v1h-7zM752 217h1v7h-1z" fill="#ff00ff"/>
<path d="M791 206h5v5h-5zM790 208h7v1h-7zM793 205h1v7h-1z" fill="#ff00ff"/>
<path d="M832 206h5v5h-5zM831 208h7v1h-7zM834 205h1v7h-1z" fill="#ff00ff"/>
<path d="M873 188h5v5h-5zM872 190h7v1h-7zM875 187h1v7h-1z" fill="#ff00ff"/>
<path d="M915 187h5v5h-5zM914 189h7v1h-7zM917 186h1v7h-1z" fill="#ff00ff"/>
<path d="M956 112h5v5h-5zM955 114h7v1h-7zM958 111h1v7h-1z" fill="#ff00ff"/>
<path d="M255 527h5v5h-5zM254 529h7v1h-7zM257 526h1v7h-1z" fill="#00ffff"/>
<path d="M296 530h5v5h-5zM295 532h7v1h-7zM298 529h1v7h-1z" fill="#00ffff"/>
<path d="M379 461h5v5h-5zM378 463h7v1h-7zM381 460h1v7h-1z" fill="#00ffff"/>
<path d="M420 445h5v5h-5zM419 447h7v1h-7zM422 444h1v7h-1z" fill="#00ffff"/>
<path d="M461 423h5v5h-5zM460 425h7v1h-7zM463 422h1v7h-1z" fill="#00ffff"/>
<path d="M502 392h5v5h-5zM501 394h7v1h-7zM504 391h1v7h-1z" fill="#00ffff"/>
<path d="M544 374h5v5h-5zM543 376h7v1h-7zM546 373h1v7h-1z" fill="#00ffff"/>
<path d="M585 331h5v5h-5zM584 333h7v1h-7zM587 330h1v7h-1z" fill="#00ffff"/>
<path d="M626 312h5v5h-5zM625 314h7v1h-7zM628 311h1v7h-1z" fill="#00ffff"/>
<path d="M667 280h5v5h-5zM666 282h7v1h-7zM669 279h1v7h-1z" fill="#00ffff"/>
<path d="M708 249h5v5h-5zM707 251h7v1h-7zM710 248h1v7h-1z" fill="#00ffff"/>
<path d="M750 217h5v5h-5zM749 219h7v1h-7zM752 216h1v7h-1z" fill="#00ffff"/>
<path d="M791 202h5v5h-5zM790 204h7v1h-7zM793 201h1v7h-1z" fill="#00ffff"/>
<path d="M832 202h5v5h-5zM831 204h7v1h-7zM834 201h1v7h-1z" fill="#00ffff"/>
<path d="M873 163h5v5h-5zM872 165h7v1h-7zM875 162h1v7h-1z" fill="#00ffff"/>
<path d="M915 140h5v5h-5zM914 142h7v1h-7zM917 139h1v7h-1z" fill="#00ffff"/>
<path d="M956 22h5v5h-5zM955 24h7v1h-7zM958 21h1v7h-1z" fill="#00ffff"/>
</g>
<g fill="#000080" shape-rendering="crispEdges">
<use href="#d1" x="77" y="450"/><use href="#d4" x="82" y="450"/><use href="#d2" x="87" y="450"/><use href="#d7" x="92" y="450"/><use href="#d7" x="97" y="450"/><use href="#d1" x="102" y="450"/>
<use href="#d1" x="118" y="450"/><use href="#d4" x="123" y="450"/><use href="#d2" x="128" y="450"/><use href="#d7" x="133" y="450"/><use href="#d7" x="138" y="450"/><use href="#d1" x="143" y="450"/>
<use href="#d1" x="160" y="469"/><use href="#d3" x="165" y="469"/><use href="#d9" x="170" y="469"/><use href="#d3" x="175" y="469"/><use href="#d7" x="180" y="469"/><use href="#d2" x="185" y="469"/>
<use href="#d1" x="201" y="469"/><use href="#d3" x="206" y="469"/><use href="#d9" x="211" y="469"/><use href="#d3" x="216" y="469"/><use href="#d7" x="221" y="469"/><use href="#d2" x="226" y="469"/>
<use href="#d1" x="242" y="474"/><use href="#d3" x="247" y="474"/><use href="#d8" x="252" y="474"/><use href="#d4" x="257" y="474"/><use href="#d7" x="262" y="474"/><use href="#d3" x="267" y="474"/>
<use href="#d1" x="283" y="449"/><use href="#d4" x="288" y="449"/><use href="#d3" x="293" y="449"/><use href="#d0" x="298" y="449"/><use href="#d1" x="303" y="449"/><use href="#d4" x="308" y="449"/>
<use href="#d1" x="325" y="439"/><use href="#d4" x="330" y="439"/><use href="#d4" x="335" y="439"/><use href="#d7" x="340" y="439"/><use href="#d2" x="345" y="439"/><use href="#d0" x="350" y="439"/>
<use href="#d1" x="366" y="432"/><use href="#d4" x="371" y="432"/><use href="#d6" x="376" y="432"/><use href="#d0" x="381" y="432"/><use href="#d3" x="386" y="432"/><use href="#d5" x="391" y="432"/>
<use href="#d1" x="407" y="384"/><use href="#d5" x="412" y="384"/><use href="#d4" x="417" y="384"/><use href="#d5" x="422" y="384"/><use href="#d3" x="427" y="384"/><use href="#d6" x="432" y="384"/>
<use href="#d1" x="448" y="364"/><use href="#d5" x="453" y="364"/><use href="#d8" x="458" y="364"/><use href="#d2" x="463" y="364"/><use href="#d4" x="468" y="364"/><use href="#d0" x="473" y="364"/>
<use href="#d1" x="489" y="338"/><use href="#d6" x="494" y="338"/><use href="#d2" x="499" y="338"/><use href="#d8" x="504" y="338"/><use href="#d9" x="509" y="338"/><use href="#d7" x="514" y="338"/>
<use href="#d1" x="531" y="319"/><use href="#d6" x="536" y="319"/><use href="#d6" x="541" y="319"/><use href="#d2" x="546" y="319"/><use href="#d2" x="551" y="319"/><use href="#d0" x="556" y="319"/>
<use href="#d1" x="572" y="299"/><use href="#d6" x="577" y="299"/><use href="#d9" x="582" y="299"/><use href="#d8" x="587" y="299"/><use href="#d9" x="592" y="299"/><use href="#d8" x="597" y="299"/>
<use href="#d1" x="613" y="277"/><use href="#d7" x="618" y="277"/><use href="#d3" x="623" y="277"/><use href="#d9" x="628" y="277"/><use href="#d2" x="633" y="277"/><use href="#d8" x="638" y="277"/>
<use href="#d1" x="654" y="248"/><use href="#d7" x="659" y="248"/><use href="#d9" x="664" y="248"/><use href="#d1" x="669" y="248"/><use href="#d3" x="674" y="248"/><use href="#d0" x="679" y="248"/>
<use href="#d1" x="695" y="217"/><use href="#d8" x="700" y="217"/><use href="#d4" x="705" y="217"/><use href="#d6" x="710" y="217"/><use href="#d6" x="715" y="217"/><use href="#d5" x="720" y="217"/>
<use href="#d1" x="737" y="202"/><use href="#d8" x="742" y="202"/><use href="#d7" x="747" y="202"/><use href="#d3" x="752" y="202"/><use href="#d2" x="757" y="202"/><use href="#d8" x="762" y="202"/>
<use href="#d1" x="778" y="201"/><use href="#d8" x="783" y="201"/><use href="#d7" x="788" y="201"/><use href="#d4" x="793" y="201"/><use href="#d4" x="798" y="201"/><use href="#d6" x="803" y="201"/>
<use href="#d1" x="819" y="183"/><use href="#d9" x="824" y="183"/><use href="#d0" x="829" y="183"/><use href="#d8" x="834" y="183"/><use href="#d1" x="839" y="183"/><use href="#d7" x="844" y="183"/>
<use href="#d1" x="860" y="183"/><use href="#d9" x="865" y="183"/><use href="#d0" x="870" y="183"/><use href="#d8" x="875" y="183"/><use href="#d1" x="880" y="183"/><use href="#d7" x="885" y="183"/>
<use href="#d2" x="902" y="109"/><use href="#d0" x="907" y="109"/><use href="#d4" x="912" y="109"/><use href="#d0" x="917" y="109"/><use href="#d5" x="922" y="109"/><use href="#d3" x="927" y="109"/>
<use href="#d2" x="943" y="75"/><use href="#d1" x="948" y="75"/><use href="#d0" x="953" y="75"/><use href="#d1" x="958" y="75"/><use href="#d7" x="963" y="75"/><use href="#d5" x="968" y="75"/>
<use href="#d1" x="77" y="446"/><use href="#d4" x="82" y="446"/><use href="#d3" x="87" y="446"/><use href="#d4" x="92" y="446"/><use href="#d3" x="97" y="446"/><use href="#d7" x="102" y="446"/>
<use href="#d1" x="118" y="446"/><use href="#d4" x="123" y="446"/><use href="#d3" x="128" y="446"/><use href="#d4" x="133" y="446"/><use href="#d3" x="138" y="446"/><use href="#d7" x="143" y="446"/>
<use href="#d1" x="160" y="446"/><use href="#d4" x="165" y="446"/><use href="#d3" x="170" y="446"/><use href="#d4" x="175" y="446"/><use href="#d3" x="180" y="446"/><use href="#d7" x="185" y="446"/>
<use href="#d1" x="201" y="452"/><use href="#d4" x="206" y="452"/><use href="#d2" x="211" y="452"/><use href="#d3" x="216" y="452"/><use href="#d6" x="221" y="452"/><use href="#d9" x="226" y="452"/>
<use href="#d1" x="242" y="452"/><use href="#d4" x="247" y="452"/><use href="#d2" x="252" y="452"/><use href="#d3" x="257" y="452"/><use href="#d6" x="262" y="452"/><use href="#d9" x="267" y="452"/>
<use href="#d1" x="283" y="426"/><use href="#d4" x="288" y="426"/><use href="#d7" x="293" y="426"/><use href="#d1" x="298" y="426"/><use href="#d6" x="303" y="426"/><use href="#d1" x="308" y="426"/>
<use href="#d1" x="325" y="416"/><use href="#d4" x="330" y="416"/><use href="#d8" x="335" y="416"/><use href="#d9" x="340" y="416"/><use href="#d2" x="345" y="416"/><use href="#d7" x="350" y="416"/>
<use href="#d1" x="366" y="415"/><use href="#d4" x="371" y="415"/><use href="#d9" x="376" y="415"/><use href="#d0" x="381" y="415"/><use href="#d0" x="386" y="415"/><use href="#d4" x="391" y="415"/>
<use href="#d1" x="407" y="398"/><use href="#d5" x="412" y="398"/><use href="#d2" x="417" y="398"/><use href="#d0" x="422" y="398"/><use href="#d4" x="427" y="398"/><use href="#d8" x="432" y="398"/>
<use href="#d1" x="448" y="363"/><use href="#d5" x="453" y="363"/><use href="#d8" x="458" y="363"/><use href="#d3" x="463" y="363"/><use href="#d4" x="468" y="363"/><use href="#d8" x="473" y="363"/>
<use href="#d1" x="489" y="337"/><use href="#d6" x="494" y="337"/><use href="#d3" x="499" y="337"/><use href="#d0" x="504" y="337"/><use href="#d9" x="509" y="337"/><use href="#d3" x="514" y="337"/>
<use href="#d1" x="531" y="318"/><use href="#d6" x="536" y="318"/><use href="#d6" x="541" y="318"/><use href="#d5" x="546" y="318"/><use href="#d7" x="551" y="318"/><use href="#d0" x="556" y="318"/>
<use href="#d1" x="572" y="297"/><use href="#d7" x="577" y="297"/><use href="#d0" x="582" y="297"/><use href="#d2" x="587" y="297"/><use href="#d8" x="592" y="297"/><use href="#d8" x="597" y="297"/>
<use href="#d1" x="613" y="278"/><use href="#d7" x="618" y="278"/><use href="#d3" x="623" y="278"/><use href="#d7" x="628" y="278"/><use href="#d1" x="633" y="278"/><use href="#d0" x="638" y="278"/>
<use href="#d1" x="654" y="256"/><use href="#d7" x="659" y="256"/><use href="#d7" x="664" y="256"/><use href="#d6" x="669" y="256"/><use href="#d2" x="674" y="256"/><use href="#d5" x="679" y="256"/>
<use href="#d1" x="695" y="223"/><use href="#d8" x="700" y="223"/><use href="#d3" x="705" y="223"/><use href="#d6" x="710" y="223"/><use href="#d1" x="715" y="223"/><use href="#d3" x="720" y="223"/>
<use href="#d1" x="737" y="191"/><use href="#d8" x="742" y="191"/><use href="#d9" x="747" y="191"/><use href="#d3" x="752" y="191"/><use href="#d8" x="757" y="191"/><use href="#d3" x="762" y="191"/>
<use href="#d1" x="778" y="176"/><use href="#d9" x="783" y="176"/><use href="#d2" x="788" y="176"/><use href="#d0" x="793" y="176"/><use href="#d3" x="798" y="176"/><use href="#d4" x="803" y="176"/>
<use href="#d1" x="819" y="176"/><use href="#d9" x="824" y="176"/><use href="#d2" x="829" y="176"/><use href="#d0" x="834" y="176"/><use href="#d3" x="839" y="176"/><use href="#d4" x="844" y="176"/>
<use href="#d1" x="860" y="138"/><use href="#d9" x="865" y="138"/><use href="#d8" x="870" y="138"/><use href="#d7" x="875" y="138"/><use href="#d6" x="880" y="138"/><use href="#d7" x="885" y="138"/>
<use href="#d1" x="902" y="138"/><use href="#d9" x="907" y="138"/><use href="#d8" x="912" y="138"/><use href="#d7" x="917" y="138"/><use href="#d6" x="922" y="138"/><use href="#d7" x="927" y="138"/>
<use href="#d2" x="943" y="59"/><use href="#d1" x="948" y="59"/><use href="#d2" x="953" y="59"/><use href="#d9" x="958" y="59"/><use href="#d4" x="963" y="59"/><use href="#d9" x="968" y="59"/>
<use href="#d1" x="77" y="484"/><use href="#d3" x="82" y="484"/><use href="#d6" x="87" y="484"/><use href="#d6" x="92" y="484"/><use href="#d1" x="97" y="484"/><use href="#d3" x="102" y="484"/>
<use href="#d1" x="118" y="484"/><use href="#d3" x="123" y="484"/><use href="#d6" x="128" y="484"/><use href="#d6" x="133" y="484"/><use href="#d1" x="138" y="484"/><use href="#d3" x="143" y="484"/>
<use href="#d1" x="160" y="484"/><use href="#d3" x="165" y="484"/><use href="#d6" x="170" y="484"/><use href="#d6" x="175" y="484"/><use href="#d1" x="180" y="484"/><use href="#d3" x="185" y="484"/>
<use href="#d1" x="201" y="484"/><use href="#d3" x="206" y="484"/><use href="#d6" x="211" y="484"/><use href="#d6" x="216" y="484"/><use href="#d1" x="221" y="484"/><use href="#d3" x="226" y="484"/>
<use href="#d1" x="242" y="483"/><use href="#d3" x="247" y="483"/><use href="#d6" x="252" y="483"/><use href="#d9" x="257" y="483"/><use href="#d1" x="262" y="483"/><use href="#d3" x="267" y="483"/>
<use href="#d1" x="283" y="483"/><use href="#d3" x="288" y="483"/><use href="#d6" x="293" y="483"/><use href="#d9" x="298" y="483"/><use href="#d1" x="303" y="483"/><use href="#d3" x="308" y="483"/>
<use href="#d1" x="325" y="501"/><use href="#d3" x="330" y="501"/><use href="#d3" x="335" y="501"/><use href="#d6" x="340" y="501"/><use href="#d3" x="345" y="501"/><use href="#d9" x="350" y="501"/>
<use href="#d1" x="366" y="486"/><use href="#d3" x="371" y="486"/><use href="#d6" x="376" y="486"/><use href="#d2" x="381" y="486"/><use href="#d9" x="386" y="486"/><use href="#d9" x="391" y="486"/>
<use href="#d1" x="407" y="471"/><use href="#d3" x="412" y="471"/><use href="#d9" x="417" y="471"/><use href="#d0" x="422" y="471"/><use href="#d1" x="427" y="471"/><use href="#d2" x="432" y="471"/>
<use href="#d1" x="448" y="455"/><use href="#d4" x="453" y="455"/><use href="#d1" x="458" y="455"/><use href="#d7" x="463" y="455"/><use href="#d8" x="468" y="455"/><use href="#d0" x="473" y="455"/>
<use href="#d1" x="489" y="432"/><use href="#d4" x="494" y="432"/><use href="#d6" x="499" y="432"/><use href="#d0" x="504" y="432"/><use href="#d1" x="509" y="432"/><use href="#d4" x="514" y="432"/>
<use href="#d1" x="531" y="408"/><use href="#d5" x="536" y="408"/><use href="#d0" x="541" y="408"/><use href="#d3" x="546" y="408"/><use href="#d7" x="551" y="408"/><use href="#d5" x="556" y="408"/>
<use href="#d1" x="572" y="385"/><use href="#d5" x="577" y="385"/><use href="#d4" x="582" y="385"/><use href="#d4" x="587" y="385"/><use href="#d9" x="592" y="385"/><use href="#d7" x="597" y="385"/>
<use href="#d1" x="613" y="361"/><use href="#d5" x="618" y="361"/><use href="#d8" x="623" y="361"/><use href="#d7" x="628" y="361"/><use href="#d3" x="633" y="361"/><use href="#d6" x="638" y="361"/>
<use href="#d1" x="654" y="332"/><use href="#d6" x="659" y="332"/><use href="#d3" x="664" y="332"/><use href="#d8" x="669" y="332"/><use href="#d8" x="674" y="332"/><use href="#d4" x="679" y="332"/>
<use href="#d1" x="695" y="292"/><use href="#d7" x="700" y="292"/><use href="#d1" x="705" y="292"/><use href="#d0" x="710" y="292"/><use href="#d9" x="715" y="292"/><use href="#d2" x="720" y="292"/>
<use href="#d1" x="737" y="253"/><use href="#d7" x="742" y="253"/><use href="#d8" x="747" y="253"/><use href="#d2" x="752" y="253"/><use href="#d4" x="757" y="253"/><use href="#d2" x="762" y="253"/>
<use href="#d1" x="778" y="199"/><use href="#d8" x="783" y="199"/><use href="#d7" x="788" y="199"/><use href="#d9" x="793" y="199"/><use href="#d4" x="798" y="199"/><use href="#d6" x="803" y="199"/>
<use href="#d1" x="819" y="199"/><use href="#d8" x="824" y="199"/><use href="#d7" x="829" y="199"/><use href="#d9" x="834" y="199"/><use href="#d4" x="839" y="199"/><use href="#d6" x="844" y="199"/>
<use href="#d1" x="860" y="182"/><use href="#d9" x="865" y="182"/><use href="#d0" x="870" y="182"/><use href="#d9" x="875" y="182"/><use href="#d5" x="880" y="182"/><use href="#d8" x="885" y="182"/>
<use href="#d1" x="902" y="182"/><use href="#d9" x="907" y="182"/><use href="#d0" x="912" y="182"/><use href="#d9" x="917" y="182"/><use href="#d5" x="922" y="182"/><use href="#d8" x="927" y="182"/>
<use href="#d2" x="943" y="102"/><use href="#d0" x="948" y="102"/><use href="#d5" x="953" y="102"/><use href="#d2" x="958" y="102"/><use href="#d9" x="963" y="102"/><use href="#d8" x="968" y="102"/>
<use href="#d1" x="242" y="557"/><use href="#d2" x="247" y="557"/><use href="#d3" x="252" y="557"/><use href="#d5" x="257" y="557"/><use href="#d2" x="262" y="557"/><use href="#d5" x="267" y="557"/>
<use href="#d1" x="283" y="535"/><use href="#d2" x="288" y="535"/><use href="#d7" x="293" y="535"/><use href="#d4" x="298" y="535"/><use href="#d4" x="303" y="535"/><use href="#d4" x="308" y="535"/>
<use href="#d1" x="325" y="472"/><use href="#d3" x="330" y="472"/><use href="#d8" x="335" y="472"/><use href="#d8" x="340" y="472"/><use href="#d8" x="345" y="472"/><use href="#d3" x="350" y="472"/>
<use href="#d1" x="366" y="460"/><use href="#d4" x="371" y="460"/><use href="#d0" x="376" y="460"/><use href="#d9" x="381" y="460"/><use href="#d6" x="386" y="460"/><use href="#d7" x="391" y="460"/>
<use href="#d1" x="407" y="444"/><use href="#d4" x="412" y="444"/><use href="#d3" x="417" y="444"/><use href="#d8" x="422" y="444"/><use href="#d4" x="427" y="444"/><use href="#d9" x="432" y="444"/>
<use href="#d1" x="448" y="423"/><use href="#d4" x="453" y="423"/><use href="#d7" x="458" y="423"/><use href="#d6" x="463" y="423"/><use href="#d2" x="468" y="423"/><use href="#d5" x="473" y="423"/>
<use href="#d1" x="489" y="408"/><use href="#d5" x="494" y="408"/><use href="#d0" x="499" y="408"/><use href="#d2" x="504" y="408"/><use href="#d8" x="509" y="408"/><use href="#d3" x="514" y="408"/>
<use href="#d1" x="531" y="391"/><use href="#d5" x="536" y="391"/><use href="#d3" x="541" y="391"/><use href="#d3" x="546" y="391"/><use href="#d1" x="551" y="391"/><use href="#d4" x="556" y="391"/>
<use href="#d1" x="572" y="373"/><use href="#d5" x="577" y="373"/><use href="#d6" x="582" y="373"/><use href="#d5" x="587" y="373"/><use href="#d3" x="592" y="373"/><use href="#d4" x="597" y="373"/>
<use href="#d1" x="613" y="352"/><use href="#d6" x="618" y="352"/><use href="#d0" x="623" y="352"/><use href="#d3" x="628" y="352"/><use href="#d6" x="633" y="352"/><use href="#d9" x="638" y="352"/>
<use href="#d1" x="654" y="327"/><use href="#d6" x="659" y="327"/><use href="#d4" x="664" y="327"/><use href="#d9" x="669" y="327"/><use href="#d3" x="674" y="327"/><use href="#d9" x="679" y="327"/>
<use href="#d1" x="695" y="293"/><use href="#d7" x="700" y="293"/><use href="#d0" x="705" y="293"/><use href="#d8" x="710" y="293"/><use href="#d9" x="715" y="293"/><use href="#d2" x="720" y="293"/>
<use href="#d1" x="737" y="257"/><use href="#d7" x="742" y="257"/><use href="#d7" x="747" y="257"/><use href="#d4" x="752" y="257"/><use href="#d7" x="757" y="257"/><use href="#d1" x="762" y="257"/>
<use href="#d1" x="778" y="244"/><use href="#d7" x="783" y="244"/><use href="#d9" x="788" y="244"/><use href="#d8" x="793" y="244"/><use href="#d5" x="798" y="244"/><use href="#d4" x="803" y="244"/>
<use href="#d1" x="819" y="244"/><use href="#d7" x="824" y="244"/><use href="#d9" x="829" y="244"/><use href="#d8" x="834" y="244"/><use href="#d5" x="839" y="244"/><use href="#d4" x="844" y="244"/>
<use href="#d1" x="860" y="179"/><use href="#d9" x="865" y="179"/><use href="#d1" x="870" y="179"/><use href="#d5" x="875" y="179"/><use href="#d4" x="880" y="179"/><use href="#d3" x="885" y="179"/>
<use href="#d2" x="902" y="52"/><use href="#d1" x="907" y="52"/><use href="#d4" x="912" y="52"/><use href="#d3" x="917" y="52"/><use href="#d4" x="922" y="52"/><use href="#d8" x="927" y="52"/>
<use href="#d2" x="943" y="52"/><use href="#d1" x="948" y="52"/><use href="#d4" x="953" y="52"/><use href="#d3" x="958" y="52"/><use href="#d4" x="963" y="52"/><use href="#d8" x="968" y="52"/>
<use href="#d1" x="242" y="502"/><use href="#d3" x="247" y="502"/><use href="#d3" x="252" y="502"/><use href="#d4" x="257" y="502"/><use href="#d9" x="262" y="502"/><use href="#d0" x="267" y="502"/>
<use href="#d1" x="283" y="415"/><use href="#d4" x="288" y="415"/><use href="#d9" x="293" y="415"/><use href="#d0" x="298" y="415"/><use href="#d0" x="303" y="415"/><use href="#d4" x="308" y="415"/>
<use href="#d1" x="325" y="442"/><use href="#d4" x="330" y="442"/><use href="#d4" x="335" y="442"/><use href="#d2" x="340" y="442"/><use href="#d7" x="345" y="442"/><use href="#d1" x="350" y="442"/>
<use href="#d1" x="366" y="393"/><use href="#d5" x="371" y="393"/><use href="#d2" x="376" y="393"/><use href="#d9" x="381" y="393"/><use href="#d7" x="386" y="393"/><use href="#d6" x="391" y="393"/>
<use href="#d1" x="407" y="376"/><use href="#d5" x="412" y="376"/><use href="#d6" x="417" y="376"/><use href="#d0" x="422" y="376"/><use href="#d8" x="427" y="376"/><use href="#d0" x="432" y="376"/>
<use href="#d1" x="448" y="358"/><use href="#d5" x="453" y="358"/><use href="#d9" x="458" y="358"/><use href="#d3" x="463" y="358"/><use href="#d4" x="468" y="358"/><use href="#d9" x="473" y="358"/>
<use href="#d1" x="489" y="340"/><use href="#d6" x="494" y="340"/><use href="#d2" x="499" y="340"/><use href="#d4" x="504" y="340"/><use href="#d9" x="509" y="340"/><use href="#d4" x="514" y="340"/>
<use href="#d1" x="531" y="323"/><use href="#d6" x="536" y="323"/><use href="#d5" x="541" y="323"/><use href="#d6" x="546" y="323"/><use href="#d2" x="551" y="323"/><use href="#d1" x="556" y="323"/>
<use href="#d1" x="572" y="305"/><use href="#d6" x="577" y="305"/><use href="#d8" x="582" y="305"/><use href="#d8" x="587" y="305"/><use href="#d5" x="592" y="305"/><use href="#d1" x="597" y="305"/>
<use href="#d1" x="613" y="289"/><use href="#d7" x="618" y="289"/><use href="#d1" x="623" y="289"/><use href="#d6" x="628" y="289"/><use href="#d7" x="633" y="289"/><use href="#d2" x="638" y="289"/>
<use href="#d1" x="654" y="266"/><use href="#d7" x="659" y="266"/><use href="#d5" x="664" y="266"/><use href="#d8" x="669" y="266"/><use href="#d5" x="674" y="266"/><use href="#d4" x="679" y="266"/>
<use href="#d1" x="695" y="239"/><use href="#d8" x="700" y="239"/><use href="#d0" x="705" y="239"/><use href="#d6" x="710" y="239"/><use href="#d1" x="715" y="239"/><use href="#d0" x="720" y="239"/>
<use href="#d1" x="737" y="209"/><use href="#d8" x="742" y="209"/><use href="#d6" x="747" y="209"/><use href="#d0" x="752" y="209"/><use href="#d1" x="757" y="209"/><use href="#d2" x="762" y="209"/>
<use href="#d1" x="778" y="197"/><use href="#d8" x="783" y="197"/><use href="#d8" x="788" y="197"/><use href="#d2" x="793" y="197"/><use href="#d1" x="798" y="197"/><use href="#d6" x="803" y="197"/>
<use href="#d1" x="819" y="197"/><use href="#d8" x="824" y="197"/><use href="#d8" x="829" y="197"/><use href="#d2" x="834" y="197"/><use href="#d1" x="839" y="197"/><use href="#d6" x="844" y="197"/>
<use href="#d1" x="860" y="179"/><use href="#d9" x="865" y="179"/><use href="#d1" x="870" y="179"/><use href="#d5" x="875" y="179"/><use href="#d3" x="880" y="179"/><use href="#d5" x="885" y="179"/>
<use href="#d1" x="902" y="178"/><use href="#d9" x="907" y="178"/><use href="#d1" x="912" y="178"/><use href="#d6" x="917" y="178"/><use href="#d2" x="922" y="178"/><use href="#d4" x="927" y="178"/>
<use href="#d2" x="943" y="103"/><use href="#d0" x="948" y="103"/><use href="#d5" x="953" y="103"/><use href="#d1" x="958" y="103"/><use href="#d9" x="963" y="103"/><use href="#d8" x="968" y="103"/>
<use href="#d1" x="242" y="518"/><use href="#d3" x="247" y="518"/><use href="#d0" x="252" y="518"/><use href="#d5" x="257" y="518"/><use href="#d7" x="262" y="518"/><use href="#d5" x="267" y="518"/>
<use href="#d1" x="283" y="521"/><use href="#d3" x="288" y="521"/><use href="#d0" x="293" y="521"/><use href="#d0" x="298" y="521"/><use href="#d7" x="303" y="521"/><use href="#d6" x="308" y="521"/>
<use href="#d1" x="366" y="452"/><use href="#d4" x="371" y="452"/><use href="#d2" x="376" y="452"/><use href="#d4" x="381" y="452"/><use href="#d4" x="386" y="452"/><use href="#d6" x="391" y="452"/>
<use href="#d1" x="407" y="436"/><use href="#d4" x="412" y="436"/><use href="#d5" x="417" y="436"/><use href="#d3" x="422" y="436"/><use href="#d5" x="427" y="436"/><use href="#d5" x="432" y="436"/>
<use href="#d1" x="448" y="414"/><use href="#d4" x="453" y="414"/><use href="#d9" x="458" y="414"/><use href="#d2" x="463" y="414"/><use href="#d0" x="468" y="414"/><use href="#d7" x="473" y="414"/>
<use href="#d1" x="489" y="383"/><use href="#d5" x="494" y="383"/><use href="#d4" x="499" y="383"/><use href="#d7" x="504" y="383"/><use href="#d1" x="509" y="383"/><use href="#d5" x="514" y="383"/>
<use href="#d1" x="531" y="365"/><use href="#d5" x="536" y="365"/><use href="#d7" x="541" y="365"/><use href="#d9" x="546" y="365"/><use href="#d6" x="551" y="365"/><use href="#d5" x="556" y="365"/>
<use href="#d1" x="572" y="322"/><use href="#d6" x="577" y="322"/><use href="#d5" x="582" y="322"/><use href="#d8" x="587" y="322"/><use href="#d1" x="592" y="322"/><use href="#d6" x="597" y="322"/>
<use href="#d1" x="613" y="303"/><use href="#d6" x="618" y="303"/><use href="#d9" x="623" y="303"/><use href="#d1" x="628" y="303"/><use href="#d3" x="633" y="303"/><use href="#d2" x="638" y="303"/>
<use href="#d1" x="654" y="271"/><use href="#d7" x="659" y="271"/><use href="#d4" x="664" y="271"/><use href="#d9" x="669" y="271"/><use href="#d5" x="674" y="271"/><use href="#d2" x="679" y="271"/>
<use href="#d1" x="695" y="240"/><use href="#d8" x="700" y="240"/><use href="#d0" x="705" y="240"/><use href="#d5" x="710" y="240"/><use href="#d1" x="715" y="240"/><use href="#d0" x="720" y="240"/>
<use href="#d1" x="737" y="208"/><use href="#d8" x="742" y="208"/><use href="#d6" x="747" y="208"/><use href="#d2" x="752" y="208"/><use href="#d1" x="757" y="208"/><use href="#d2" x="762" y="208"/>
<use href="#d1" x="778" y="193"/><use href="#d8" x="783" y="193"/><use href="#d8" x="788" y="193"/><use href="#d9" x="793" y="193"/><use href="#d1" x="798" y="193"/><use href="#d6" x="803" y="193"/>
<use href="#d1" x="819" y="193"/><use href="#d8" x="824" y="193"/><use href="#d8" x="829" y="193"/><use href="#d9" x="834" y="193"/><use href="#d1" x="839" y="193"/><use href="#d6" x="844" y="193"/>
<use href="#d1" x="860" y="154"/><use href="#d9" x="865" y="154"/><use href="#d5" x="870" y="154"/><use href="#d9" x="875" y="154"/><use href="#d6" x="880" y="154"/><use href="#d1" x="885" y="154"/>
<use href="#d2" x="902" y="131"/><use href="#d0" x="907" y="131"/><use href="#d0" x="912" y="131"/><use href="#d1" x="917" y="131"/><use href="#d5" x="922" y="131"/><use href="#d8" x="927" y="131"/>
<use href="#d2" x="943" y="13"/><use href="#d2" x="948" y="13"/><use href="#d1" x="953" y="13"/><use href="#d2" x="958" y="13"/><use href="#d1" x="963" y="13"/><use href="#d9" x="968" y="13"/>
</g>
<g fill="#000080" shape-rendering="crispEdges">
<rect x="102" y="594" width="13" height="2" fill="#ff0000"/>
<path d="M106 593h5v5h-5zM105 595h7v1h-7zM108 592h1v7h-1z" fill="#ff0000"/>
<use href="#L0" x="118" y="592"/><use href="#L1" x="123" y="592"/><use href="#L2" x="128" y="592"/><use href="#L3" x="133" y="592"/>
<rect x="236" y="594" width="13" height="2" fill="#00ff00"/>
<path d="M240 593h5v5h-5zM239 595h7v1h-7zM242 592h1v7h-1z" fill="#00ff00"/>
<use href="#L0" x="252" y="592"/><use href="#L4" x="257" y="592"/><use href="#L5" x="262" y="592"/><use href="#L6" x="267" y="592"/><use href="#L7" x="272" y="592"/><use href="#L2" x="277" y="592"/>
<rect x="370" y="594" width="13" height="2" fill="#0000ff"/>
<path d="M374 593h5v5h-5zM373 595h7v1h-7zM376 592h1v7h-1z" fill="#0000ff"/>
<use href="#L0" x="386" y="592"/><use href="#L6" x="391" y="592"/><use href="#L7" x="396" y="592"/><use href="#L8" x="401" y="592"/><use href="#L9" x="406" y="592"/><use href="#L2" x="411" y="592"/>
<rect x="504" y="594" width="13" height="2" fill="#808000"/>
<path d="M508 593h5v5h-5zM507 595h7v1h-7zM510 592h1v7h-1z" fill="#808000"/>
<use href="#L0" x="520" y="592"/><use href="#L7" x="525" y="592"/><use href="#L4" x="530" y="592"/><use href="#L2" x="535" y="592"/><use href="#L3" x="540" y="592"/><use href="#L6" x="545" y="592"/><use href="#L2" x="550" y="592"/><use href="#L10" x="555" y="592"/><use href="#L1" x="560" y="592"/><use href="#L7" x="565" y="592"/><use href="#L11" x="570" y="592"/>
<rect x="638" y="594" width="13" height="2" fill="#ff00ff"/>
<path d="M642 593h5v5h-5zM641 595h7v1h-7zM644 592h1v7h-1z" fill="#ff00ff"/>
<use href="#L12" x="654" y="592"/><use href="#L6" x="659" y="592"/><use href="#L13" x="664" y="592"/><use href="#L14" x="669" y="592"/><use href="#L8" x="674" y="592"/><use href="#L6" x="679" y="592"/><use href="#L2" x="684" y="592"/><use href="#L10" x="689" y="592"/><use href="#L1" x="694" y="592"/><use href="#L7" x="699" y="592"/><use href="#L11" x="704" y="592"/><use href="#L15" x="709" y="592"/><use href="#L16" x="714" y="592"/><use href="#L17" x="719" y="592"/><use href="#L7" x="724" y="592"/><use href="#L18" x="729" y="592"/><use href="#L17" x="734" y="592"/><use href="#L19" x="739" y="592"/><use href="#L19" x="744" y="592"/><use href="#L6" x="749" y="592"/><use href="#L7" x="754" y="592"/><use href="#L2" x="759" y="592"/>
<rect x="772" y="594" width="13" height="2" fill="#00ffff"/>
<path d="M776 593h5v5h-5zM775 595h7v1h-7zM778 592h1v7h-1z" fill="#00ffff"/>
<use href="#L20" x="788" y="592"/><use href="#L4" x="793" y="592"/><use href="#L13" x="798" y="592"/><use href="#L21" x="803" y="592"/><use href="#L22" x="808" y="592"/><use href="#L6" x="813" y="592"/><use href="#L2" x="818" y="592"/>
</g>
</svg></body></html>
